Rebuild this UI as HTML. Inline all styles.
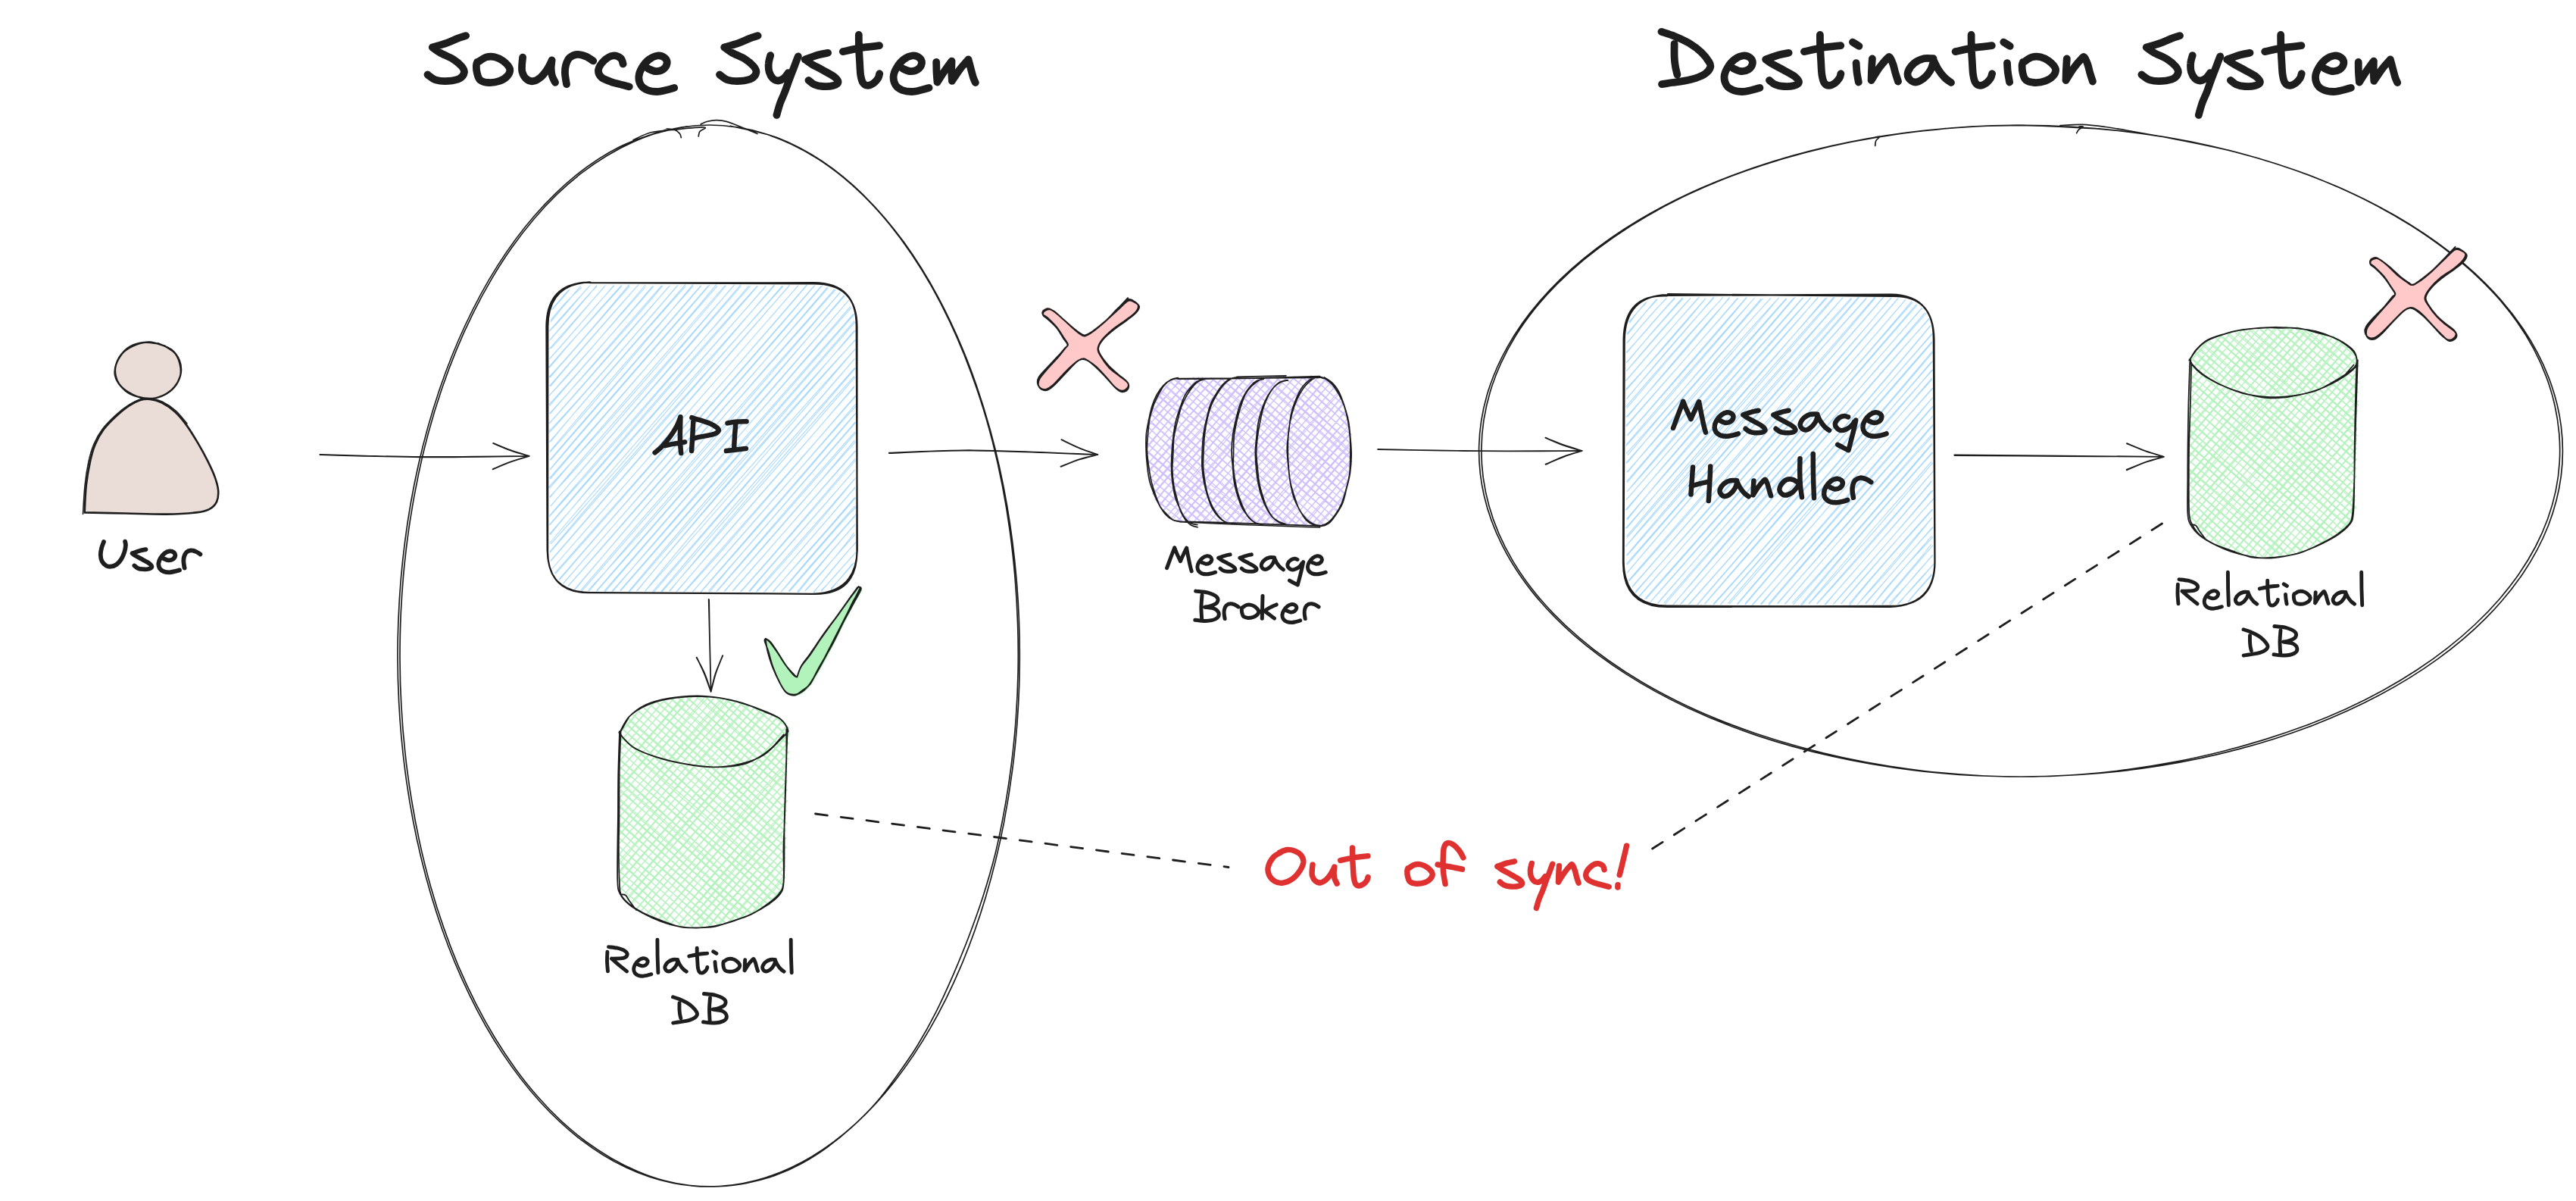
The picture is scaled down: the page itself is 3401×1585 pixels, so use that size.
<!DOCTYPE html>
<html><head><meta charset="utf-8"><title>Diagram</title><style>html,body{margin:0;padding:0;background:#fff;font-family:"Liberation Sans",sans-serif}svg{display:block}</style></head><body><svg width="3401" height="1585" viewBox="0 0 3401 1585"><path d="M964.3 166.2C974.6 168.8 1005.7 173.9 1025.9 181.6C1046.1 189.4 1066.2 199.9 1085.5 212.8C1104.8 225.7 1123.7 241.3 1141.6 259C1159.5 276.7 1176.8 297 1193 319.1C1209.1 341.3 1224.4 365.8 1238.4 391.8C1252.4 417.9 1265.4 446.1 1276.9 475.4C1288.4 504.8 1298.7 536 1307.5 568C1316.3 600 1323.7 633.5 1329.6 667.4C1335.4 701.3 1339.8 736.3 1342.6 771.4C1345.4 806.4 1346.6 842.2 1346.2 877.5C1345.9 912.8 1343.9 948.5 1340.4 983.3C1336.9 1018.1 1331.8 1052.9 1325.3 1086.4C1318.8 1120 1310.6 1153 1301.2 1184.5C1291.8 1215.9 1280.8 1246.5 1268.7 1275.2C1256.6 1303.8 1243.1 1331.2 1228.5 1356.4C1214 1381.6 1198.2 1405.2 1181.6 1426.4C1165.1 1447.5 1147.3 1466.8 1129.1 1483.4C1110.8 1500 1091.6 1514.5 1072.1 1526.2C1052.5 1537.9 1032.2 1547.3 1011.9 1553.8C991.5 1560.4 970.7 1564.3 950 1565.6C929.3 1566.8 908.3 1565.3 887.7 1561.2C867.2 1557.1 846.6 1550.2 826.6 1540.8C806.6 1531.5 786.9 1519.3 768 1504.9C749.1 1490.5 730.6 1473.4 713.2 1454.3C695.8 1435.1 679.1 1413.5 663.5 1390.1C648 1366.7 633.4 1341 620.2 1313.8C606.9 1286.7 594.7 1257.5 584 1227.2C573.3 1197 563.9 1165 556 1132.3C548.1 1099.6 541.6 1065.5 536.7 1031.2C531.8 996.9 528.4 961.5 526.6 926.3C524.8 891.1 524.5 855.3 525.9 820C527.2 784.8 530.1 749.3 534.6 714.8C539 680.3 545.1 645.9 552.5 613C560 580 569 547.7 579.3 517C589.6 486.3 601.4 456.7 614.3 429C627.2 401.4 641.4 375.1 656.6 351.1C671.8 327.1 688.3 304.8 705.4 285C722.6 265.2 740.8 247.4 759.5 232.2C778.2 217.1 797.8 204.2 817.6 194.1C837.5 183.9 868.4 175.1 878.5 171.3M864.7 176.3C870.7 174.9 888.5 169.7 900.6 167.8C912.6 165.9 924.7 165 936.8 165C948.9 165 961.1 166 973.1 167.9C985.2 169.8 997.3 172.6 1009.2 176.3C1021.1 180 1032.9 184.7 1044.6 190.2C1056.3 195.7 1067.9 202.1 1079.2 209.3C1090.5 216.5 1101.7 224.7 1112.7 233.6C1123.6 242.5 1134.3 252.3 1144.7 262.9C1155.2 273.4 1165.3 284.8 1175.2 296.9C1185 309 1194.5 321.9 1203.6 335.4C1212.8 349 1221.6 363.2 1230 378.1C1238.4 393 1246.4 408.6 1254 424.6C1261.6 440.7 1268.8 457.4 1275.5 474.6C1282.3 491.8 1288.6 509.5 1294.4 527.6C1300.3 545.7 1305.6 564.4 1310.5 583.3C1315.3 602.2 1319.6 621.6 1323.4 641.2C1327.2 660.8 1330.5 680.8 1333.3 700.9C1336 721 1338.3 741.4 1340 761.8C1341.7 782.3 1342.9 802.9 1343.6 823.6C1344.3 844.2 1344.5 864.9 1344.1 885.6C1343.7 906.2 1342.8 927 1341.3 947.5C1339.9 968 1337.8 988.5 1335.3 1008.7C1332.7 1028.9 1329.7 1049 1326.1 1068.7C1322.5 1088.5 1318.6 1108.1 1313.9 1127.2C1309.1 1146.2 1303.6 1165 1297.8 1183.2C1291.9 1201.5 1285.4 1219.3 1278.8 1236.7C1272.2 1254 1265.2 1271 1258.1 1287.4C1250.9 1303.9 1243.7 1320 1235.9 1335.4C1228.1 1350.8 1219.9 1365.7 1211.3 1379.8C1202.6 1393.9 1193.2 1407.1 1183.9 1419.9C1174.7 1432.7 1165.5 1445.2 1155.5 1456.6C1145.6 1467.9 1134.9 1478.2 1124.3 1487.8C1113.6 1497.5 1102.7 1506.4 1091.6 1514.5C1080.5 1522.5 1069.1 1529.8 1057.5 1536C1045.9 1542.3 1034 1547.5 1022.1 1551.8C1010.1 1556 997.9 1559.1 985.8 1561.4C973.7 1563.8 961.5 1565.1 949.4 1565.7C937.2 1566.2 925.1 1566.1 913 1564.8C900.9 1563.5 888.8 1561.2 876.9 1558C865 1554.9 853.2 1550.7 841.5 1545.7C829.8 1540.8 818.3 1535 806.9 1528.4C795.5 1521.8 784.2 1514.5 773.1 1506.3C762.1 1498 751.2 1488.9 740.6 1479.1C730 1469.2 719.7 1458.5 709.7 1447C699.6 1435.6 689.9 1423.3 680.5 1410.4C671.1 1397.4 662 1383.8 653.3 1369.5C644.6 1355.2 636.3 1340.2 628.3 1324.6C620.4 1309.1 612.8 1292.9 605.7 1276.2C598.6 1259.5 592 1242.2 585.8 1224.4C579.6 1206.7 573.8 1188.5 568.6 1169.9C563.3 1151.3 558.6 1132.2 554.3 1112.9C550.1 1093.6 546.3 1073.9 543.1 1054C539.8 1034.1 537.1 1013.9 534.9 993.6C532.7 973.3 531 952.8 529.9 932.2C528.7 911.7 528.1 891 528 870.3C527.9 849.7 528.4 829 529.3 808.4C530.3 787.8 531.8 767.2 533.8 746.9C535.9 726.5 538.4 706.2 541.5 686.3C544.6 666.3 548.2 646.5 552.3 627.1C556.3 607.7 561 588.5 566 569.8C571.1 551.1 576.7 532.7 582.8 514.8C588.8 497 595.3 479.5 602.3 462.6C609.2 445.7 616.7 429.3 624.5 413.6C632.3 397.8 640.5 382.6 649.1 368.1C657.7 353.6 666.6 339.7 675.9 326.6C685.2 313.4 694.8 300.9 704.8 289.2C714.7 277.5 724.9 266.5 735.4 256.4C745.9 246.2 756.7 236.9 767.7 228.4C778.7 219.9 789.9 212.2 801.3 205.4C812.6 198.6 824.2 192.5 835.8 187.4C847.5 182.2 859.2 177.8 871.1 174.4C883 171 901.1 168.1 907.1 166.8M925.3 163.9C926.8 163.3 930.5 161.2 934 160.3C937.5 159.4 941.9 158.6 946.2 158.7C950.5 158.8 955.7 159.5 960 160.6C964.3 161.7 968.1 163.5 972 165C975.9 166.5 978.8 167.7 983.5 169.6C988.2 171.5 997.2 175.3 1000 176.5M836 184.9C839.9 183.2 850.2 177.1 859.3 174.8C868.3 172.5 878.6 172.2 890.3 171.1C902 170 924 167.6 929.6 168C935.2 168.4 924.9 171.8 923.7 173.8C922.5 175.8 922.5 179 922.2 180M880 170C881.7 170.2 887.4 170.1 890.3 171.1C893.2 172.1 895.8 174.3 897.3 176.1C898.8 177.8 899 180.7 899.3 181.6" fill="none" stroke="#1e1e1e" stroke-width="1.7" stroke-linecap="round" stroke-linejoin="round"/>
<path d="M2853.2 180C2870.5 183.7 2923.5 193.1 2957 202C2990.4 210.9 3023.2 221.5 3054 233.3C3084.8 245.2 3114.4 258.6 3141.8 273.2C3169.2 287.7 3195.1 303.7 3218.4 320.7C3241.8 337.6 3263.2 355.8 3282 374.6C3300.8 393.5 3317.3 413.5 3331.1 433.8C3344.8 454.2 3356.1 475.5 3364.4 496.9C3372.8 518.3 3378.5 540.3 3381.3 562.2C3384.1 584.1 3384.1 606.4 3381.3 628.4C3378.4 650.3 3372.7 672.3 3364.4 693.7C3356 715.1 3344.7 736.4 3331 756.7C3317.2 777.1 3300.6 797.1 3281.9 815.9C3263.1 834.8 3241.6 853 3218.2 869.9C3194.8 886.8 3169 902.8 3141.6 917.3C3114.1 931.9 3084.5 945.3 3053.7 957.2C3022.9 969 2990.2 979.6 2956.7 988.4C2923.2 997.3 2888.2 1004.7 2852.9 1010.4C2817.5 1016.1 2781 1020.2 2744.6 1022.5C2708.3 1024.9 2671.2 1025.6 2634.6 1024.5C2598.1 1023.5 2561.2 1020.8 2525.4 1016.4C2489.5 1012 2453.8 1005.9 2419.5 998.2C2385.2 990.6 2351.5 981.3 2319.5 970.6C2287.6 959.9 2256.6 947.5 2227.8 934C2199 920.5 2171.5 905.4 2146.5 889.4C2121.5 873.4 2098.2 856 2077.5 837.9C2056.9 819.7 2038.3 800.4 2022.6 780.6C2006.8 760.7 1993.4 739.9 1982.9 718.9C1972.3 697.8 1964.4 676 1959.4 654.3C1954.4 632.5 1952.1 610.2 1952.7 588.3C1953.3 566.3 1956.7 544.1 1962.9 522.4C1969.1 500.8 1978.2 479.1 1989.9 458.3C2001.5 437.5 2016 416.9 2032.9 397.4C2049.7 377.9 2069.3 358.9 2090.9 341.2C2112.5 323.5 2136.7 306.5 2162.6 291C2188.5 275.5 2216.7 261 2246.2 248C2275.8 235.1 2307.4 223.4 2339.9 213.3C2372.4 203.2 2406.6 194.5 2441.3 187.6C2476 180.6 2512 175.2 2548.1 171.5C2584.1 167.8 2621.1 165.8 2657.7 165.4C2694.3 165.1 2749.3 168.9 2767.6 169.6M2482.9 180.3C2493.2 178.9 2524.1 174.2 2545 171.9C2565.8 169.7 2587 168 2608.1 166.9C2629.2 165.9 2650.5 165.3 2671.6 165.4C2692.8 165.5 2714.1 166.1 2735.2 167.3C2756.3 168.5 2777.4 170.3 2798.2 172.6C2819 174.9 2839.8 177.8 2860.2 181.2C2880.6 184.6 2900.8 188.6 2920.6 193.1C2940.5 197.6 2960 202.6 2979.1 208.2C2998.2 213.7 3016.9 219.8 3035.1 226.3C3053.3 232.9 3071.1 239.9 3088.2 247.4C3105.3 255 3121.9 263 3137.9 271.4C3153.8 279.9 3169.1 288.8 3183.8 298C3198.4 307.3 3212.4 316.9 3225.6 326.9C3238.8 336.9 3251.3 347.2 3263 357.8C3274.6 368.4 3285.7 379.3 3295.7 390.5C3305.8 401.7 3315 413.2 3323.3 425C3331.6 436.7 3338.9 448.7 3345.4 460.8C3351.8 472.9 3357.3 485.3 3361.9 497.6C3366.5 510 3370.2 522.5 3373 535C3375.8 547.5 3377.7 560.1 3378.8 572.6C3379.8 585.2 3380 597.8 3379.2 610.3C3378.5 622.8 3376.8 635.4 3374.2 647.9C3371.6 660.3 3368 672.7 3363.6 685C3359.1 697.3 3353.7 709.5 3347.5 721.5C3341.2 733.5 3334 745.3 3326 757C3318 768.6 3309.1 780 3299.4 791.2C3289.7 802.4 3279.1 813.4 3267.8 824C3256.5 834.7 3244.3 845.1 3231.5 855.1C3218.7 865.2 3205.1 874.9 3190.8 884.3C3176.5 893.7 3161.5 902.7 3145.9 911.2C3130.3 919.8 3113.9 928 3097.1 935.7C3080.3 943.3 3062.8 950.6 3044.9 957.3C3027 964 3008.5 970.3 2989.6 976.1C2970.8 981.9 2951.5 987.3 2931.9 992.2C2912.3 997 2892.3 1001.5 2872 1005.4C2851.8 1009.2 2831.2 1012.6 2810.5 1015.4C2789.8 1018.2 2768.8 1020.4 2747.8 1022C2726.7 1023.6 2705.5 1024.5 2684.3 1024.9C2663.1 1025.2 2641.8 1024.9 2620.7 1024C2599.6 1023.1 2578.4 1021.5 2557.5 1019.4C2536.6 1017.3 2515.7 1014.6 2495.2 1011.4C2474.7 1008.1 2454.4 1004.3 2434.4 1000C2414.4 995.7 2394.7 990.8 2375.4 985.5C2356.2 980.2 2337.2 974.4 2318.8 968.2C2300.3 962 2282.3 955.3 2264.8 948.1C2247.4 940.9 2230.4 933.3 2214.1 925.2C2197.8 917.1 2182 908.6 2167 899.7C2151.9 890.8 2137.5 881.4 2123.8 871.7C2110.1 862.1 2097.1 852 2085 841.6C2072.8 831.3 2061.3 820.6 2050.8 809.6C2040.2 798.6 2030.4 787.3 2021.5 775.8C2012.6 764.3 2004.6 752.5 1997.5 740.6C1990.4 728.7 1984.2 716.5 1978.9 704.3C1973.6 692 1969.2 679.6 1965.8 667.2C1962.3 654.7 1959.8 642.2 1958.1 629.6C1956.5 617.1 1955.7 604.5 1955.9 591.9C1956 579.3 1957.1 566.7 1959 554.2C1961 541.7 1963.8 529.1 1967.5 516.7C1971.3 504.2 1975.9 491.8 1981.5 479.6C1987.1 467.4 1993.6 455.2 2001 443.3C2008.3 431.4 2016.7 419.7 2025.8 408.2C2035 396.8 2045.2 385.6 2056 374.7C2066.9 363.8 2078.6 353.2 2091 342.9C2103.5 332.6 2116.7 322.6 2130.6 313C2144.5 303.3 2159.1 294 2174.4 285.2C2189.6 276.3 2205.6 267.8 2222.1 259.8C2238.7 251.9 2255.8 244.3 2273.5 237.2C2291.1 230.2 2309.4 223.6 2328 217.6C2346.6 211.5 2365.8 205.9 2385.2 200.9C2404.7 195.8 2424.6 191.2 2444.7 187.2C2464.8 183.2 2485.3 179.7 2505.9 176.8C2526.5 173.9 2558 170.9 2568.4 169.7M2720 165.6C2724.9 165.4 2739.4 164.1 2749.4 164.4C2759.4 164.7 2770.3 166.2 2780 167.5C2789.7 168.8 2795.9 170 2807.6 172C2819.3 174 2834.6 176.7 2850 179.5C2865.4 182.3 2891.7 187.3 2900 188.9M2745 167C2745.9 167.1 2750.4 166.6 2750.3 167.3C2750.2 168 2745.9 169.8 2744.5 171.2C2743.1 172.6 2742.1 174.9 2741.6 175.7M2470 182.5C2471.9 182.1 2480.4 179.4 2481.5 180C2482.6 180.6 2477.7 183.7 2476.7 185.8C2475.7 187.9 2475.9 191.4 2475.7 192.5" fill="none" stroke="#1e1e1e" stroke-width="1.7" stroke-linecap="round" stroke-linejoin="round"/>
<path d="M728.9 408.4C737.8 397.8 744.7 389.1 750.8 383M728.4 409.2C736.2 401.1 742.5 393.6 752.3 382M727.2 422.7C737.4 409.2 750.4 394 767.9 379.6M727 424.8C735.1 415 742.9 405.2 766.9 377.3M726.7 435.7C744.7 418 760.3 397.2 779.4 376.5M725.1 437.3C737.8 422.4 750.5 408.5 777.9 377.8M726.6 447.8C751.1 419.4 773.9 390.2 788 378.1M725.5 449.4C739.2 433.6 752.5 418.5 788.3 376.3M727.3 459.9C743.8 443.8 758.9 422.2 798 378.4M724.9 461C745.8 437.3 767 414.1 799.2 376.5M725.3 474C751.5 445.4 773.8 417.4 810.9 376.9M726.4 472.6C751.8 443.2 779.9 412.8 810.4 376.5M724.2 485.1C753.4 450.5 783 419.9 820.7 377.7M725.4 485.2C755.1 449.9 784.4 416 820.5 376.3M724.8 497.6C758.1 462.4 789.7 424.1 830.8 375.7M725.7 498.3C766.6 452.1 806.5 405.5 831.2 377.6M726.7 509.8C767.3 461.2 810.7 412.5 843.1 375.5M725.4 509.7C754.3 476.6 783 442.7 841.4 377.4M725.4 521.9C773.9 466.7 822 412.1 852.3 378.5M724.8 522.5C762.8 482.5 797.4 440.2 852 376M725.6 535.7C754.7 501 784.3 469 861.6 377.6M724.9 533.9C759.6 496.2 793.4 457.4 863.3 377.5M725.5 545.8C776.5 489.2 831 430.3 874.8 377.1M726.2 546.2C769.6 495.8 814.3 444.9 873.5 376.8M726.1 557.8C761.8 517.9 801 473.7 883 378.2M724.9 559.1C778.6 497.9 831.3 436.2 884.5 376.8M724.7 569.4C779.7 511.7 827.9 453.9 893.4 377.9M724.9 571.5C767.3 524.9 808.7 477 895 376.4M726.9 582.8C790.1 505.4 859.6 428 905 375.4M725.2 583.6C783.7 515.5 841 448.7 905.3 377.6M726 596.9C795.4 520 860.9 440.6 915 375.4M726.1 595.7C789.6 519.7 855.8 444 915.2 377.4M727.1 607.2C770.6 557.5 814.8 506.2 925.8 377.2M725.8 607.3C785.5 537.9 843.2 471.2 925.5 376.7M726.9 618.5C769.1 567.2 816.5 513.5 935.3 376.8M726 620.2C808 524.1 892.7 427.6 937 376M726.3 632.3C810.2 535 891 441.7 945.9 375.4M725.4 631.1C793 554.7 860.3 476.8 946.7 377.6M724.1 643.4C780.4 582.1 835.4 523.1 958.6 377M725.5 644.5C799.3 557.3 875.7 470.5 957.4 376.5M726.1 656.6C781.3 588.3 841.6 523.6 970 375.7M725.5 656.2C778.4 599.4 829.9 540.5 967.9 377.7M727.2 667.7C803 580.3 878.3 490.9 978.1 375.7M726.6 668.2C825.5 553.8 924.5 439 978.4 377.5M725.2 681.9C798.8 600.3 870.3 516.3 988.6 377M726 680C818.6 573.1 914.4 462.9 990.6 377.3M725.3 692.8C825.5 575.6 928.9 455.4 999.8 377.3M726.1 692.6C780.9 629.2 837.5 564.5 1000.4 377.3M726.1 706C807.5 606.1 894 511.2 1011 377.9M725.5 704.9C833 582.7 939.7 460.7 1011.3 377.2M727.2 718C795.3 642.8 860.3 566.7 1022.4 375.6M725.7 717C789.7 640.3 856.7 563.6 1022.4 377.2M725.9 728.3C786.4 655.5 849.4 583.5 1033.7 377.8M726 729.1C800.8 643.5 877.2 557 1032.9 377.2M726.8 740.4C801 654.3 875.6 566.5 1041.8 377.3M727.7 739.8C840.5 609.6 952.1 482.3 1042.5 376.2M729.9 749.5C843.4 618.7 954.7 489.7 1053.4 377.3M729 750.5C844.6 616.7 959.8 484.4 1054 376.6M732.4 756.6C863.5 608.2 990.4 464.4 1065.6 376.2M733.3 757.5C818.5 662.6 902.1 565.6 1064.8 376.3M738.5 765.4C824.2 664.3 914.2 564.7 1076 376.3M737.9 764.8C814.5 676.8 891.3 588 1074.5 377.5M743.2 770.3C854.9 642.3 968.8 513.2 1086 376.3M744.1 769.6C863.1 633.6 979.7 498.7 1084.1 377.7M750.4 773.2C862.6 646.8 972.8 519.6 1092.4 378.9M749.8 773.7C882 622.3 1012.7 470.6 1093.4 379.8M759.4 777.7C849.1 669.9 942.2 563.8 1103.4 382.2M758.3 778C862.9 655.8 967.7 534.4 1101.7 381.8M767.8 780.6C887.3 642.7 1008.1 506.3 1109.2 385.7M766.3 779.8C848.4 683.8 929.8 589.4 1109.3 386.1M776.1 779.5C851.2 699.8 922.1 616.2 1114.1 390M777.5 780.3C859.4 683 943.7 586.1 1115.2 390.4M787.9 779.2C920.8 627.6 1052.6 472.9 1120.7 396M787.3 781C883 671.2 976.9 564 1119.9 396.9M798.4 781.3C900 663.7 1003.9 544.1 1123 404.1M797.6 780.2C907 654.5 1017.2 526.5 1124.3 405.7M807.6 780.7C920.9 653.5 1029.8 526.8 1127.8 414.9M808.6 780.9C892.3 682.4 975.8 585.3 1126.9 414.2M818.8 779.2C891.7 696.2 964.3 610.4 1128.2 423.4M819 780.1C907.3 679.5 996.6 577.8 1129.1 424.9M830.9 781.2C898.6 701.6 969.9 623.2 1128 435.8M829.8 780.9C916.3 677.3 1003.9 576 1129.7 436M841.1 779.8C936.8 663.9 1035.1 549.5 1129.6 448.3M840.5 780.1C919.2 685.3 1000.8 592.4 1128.5 449.1M852.3 779.4C915.5 700.6 983.9 623 1128.5 461.3M851.3 780.7C942.8 678.6 1031.8 575.6 1129.1 460.7M862.4 782.2C940.1 693 1017.1 603.6 1127.7 474.4M861.3 781C944.6 684.8 1027.1 591.5 1128.7 473M873.7 781.2C976.2 666.7 1073.7 549.5 1129.5 485.9M872.5 781.2C951.6 687 1031.1 595.6 1128.7 485.4M884.5 779.8C975.7 668.6 1074.8 554.8 1127.8 496.7M883.3 780.3C963.7 688.8 1044.4 596.3 1129.2 497.5M894.4 780C940.1 725.5 988.7 669.6 1128 511M892.8 781.1C985.8 674.5 1079.5 567.1 1128.2 509.3M902.4 781.6C957.9 718.9 1009.8 658.3 1130.3 522.3M904.4 780.1C953.4 728.1 998.9 673.8 1129.4 522.2M914.3 781.2C1000.3 682.5 1085.5 584.4 1130.7 535.4M914.7 780.9C979.6 706.2 1044.6 633.5 1129.5 533.3M924.9 781.8C984.8 714.3 1044.1 647.1 1130.1 545.2M925.6 780.6C969.4 729.4 1015.7 675.9 1128.1 546.8M936.5 781.6C981.8 726.3 1029.6 672.9 1129.4 556.7M935.5 779.9C981 729.6 1023.4 679.4 1129.5 557.9M946.9 780.1C1019.6 696.9 1091.6 614 1130.1 570.8M945.6 780.9C1007 709.9 1067.9 637.9 1128.8 569.9M956.4 780C997.6 734.4 1036 691.2 1128.5 580.9M956.4 780.9C1006.1 722.8 1055.2 665.8 1129.5 582.9M968.7 778.8C1018.1 722.2 1070.5 661.1 1129 595M967.1 779.9C1030 707.9 1093.7 635.2 1129.8 595M977.3 781.2C1019.9 734.3 1062.7 682.9 1129 605.4M978.7 780.3C1020.3 734 1062.1 686.1 1129.6 607.5M990 780.6C1035.5 725.5 1083.5 673.1 1128.1 620.3M988.5 780.6C1044 716.2 1099.8 653.6 1128.6 620.1M998.1 781.3C1027.1 746.8 1054.9 717.1 1128.3 632.1M1000.1 780.3C1047.4 728.5 1093.4 675.4 1129.8 630.5M1008.5 781.7C1045 741.1 1079.6 700 1128.8 643.9M1010.6 780.1C1035.2 751 1060.4 722.8 1129 643M1020.3 780.8C1065.2 730.3 1108 683.2 1129.7 656.6M1021.2 780.5C1055.7 739.7 1093.3 698.1 1128.6 656.3M1032.7 779.5C1067.3 741.3 1099.9 700.1 1130.1 669M1031.2 781.1C1059.1 747.7 1086.6 714.7 1128.7 667.6M1041.1 780.4C1063.2 753.7 1085.8 729.3 1130.5 678.4M1042.3 780.8C1067.3 751.5 1094.1 720.6 1129.3 680.6M1053.8 781.9C1078.8 750.5 1105.6 718.2 1127.8 693.4M1052.7 781.1C1067.4 762 1084.5 742.6 1129.1 691.6M1064 779C1077.4 764.4 1094.9 746.6 1127.9 703M1062.3 780.1C1079.9 761.5 1098.4 740.1 1128.8 705.3M1074.1 782.1C1093.7 757.1 1114 733 1130.4 715.3M1074.2 781.3C1090.1 762.9 1106.1 742.5 1129.1 716.7M1083.9 779.4C1097.8 766.7 1109.5 750.8 1130.3 728.5M1084.5 780.2C1098.7 763.1 1112.3 748.9 1129.1 729.8M1097 778.3C1108.2 763.8 1119.1 752.4 1125.4 743.8M1097.1 776.6C1107.4 766.3 1116.8 755.4 1127.6 742.7" fill="none" stroke="#a5d8ff" stroke-width="1.08" />
<path d="M780.1 373.4 L1074.5 373.2 Q1131.5 373.5 1130.7 431.3 L1131.8 725.8 Q1130.5 782.6 1072.5 783.8 L780.7 782 Q723.4 784.2 722.6 725.4 L721.4 430.1 Q722.3 372.2 779.5 372.7M778.7 373.2 L1073.3 374.4 Q1131.6 373.7 1131.5 431.8 L1131.4 724.4 Q1133.1 784.7 1074.6 783.8 L779.6 782.2 Q721.5 781.7 723.1 724.8 L723.3 430.9 Q723.7 374.4 778.6 372.4" fill="none" stroke="#1e1e1e" stroke-width="2.2" stroke-linecap="round" stroke-linejoin="round"/>
<path d="M2151.4 426.4C2158.3 415.9 2163.2 409.2 2173.2 400.3M2150.2 425.2C2159.4 415.3 2166.5 406.5 2173.8 398.2M2148.5 441.7C2156.7 432.1 2166 419.2 2187.1 394.8M2148.3 440.1C2160.3 425.8 2172.2 412.2 2188.3 395M2148.9 451.9C2160 438.8 2171.9 422.3 2200.4 393.6M2147.5 453C2163.9 433.9 2179.6 415.6 2199.9 393.5M2146.9 465.3C2172.6 438.7 2194.9 409.7 2211.3 393.9M2147.7 465.7C2165.5 444.5 2183.8 423.3 2211.2 392.7M2146.7 479C2169.1 453 2188.9 429.6 2222.4 393.6M2148.3 478C2166.7 455.6 2185.6 432.8 2221.3 392.9M2147.3 489.8C2165.2 469 2184.1 445 2232 393M2147.3 489.7C2170.6 463.9 2191.6 438.2 2231.6 393.8M2146.4 502.6C2179.2 464.3 2213.7 425.2 2243.7 391.9M2147.9 501.5C2176.7 467.5 2208 431.9 2241.4 393.9M2146.9 514.8C2170.3 489.6 2191.2 462.1 2251.6 394.1M2146.7 513.5C2190.7 467 2232.7 417.2 2251.9 393.9M2148.8 524.5C2187.8 479.7 2228.1 432.5 2262.9 391.6M2147.6 526.7C2187.9 477.7 2228.2 430.7 2262.5 393.4M2146.4 537.2C2189.5 486.9 2232.4 438.1 2274.7 392.7M2147.7 538.6C2187.8 492.2 2226 446.2 2274.1 393M2148.7 550.1C2199.3 489.4 2252.8 426.7 2282.9 394.2M2146.6 550.8C2200.9 490 2255.2 427.2 2283.7 392.2M2147 563C2198.8 503.1 2251.1 443.8 2293.8 393.5M2146.9 561.9C2187.1 515.8 2228 470.6 2294.8 393.4M2149.2 574.3C2198.8 516.2 2254.9 455.4 2306.3 392.4M2148 574.8C2210.9 502.4 2272.8 430.3 2305.2 393M2146.8 588.6C2186.9 545.2 2225.3 498.4 2315.7 394M2147.4 586.6C2199.2 526.1 2251 465.5 2316.6 393M2148.8 600.8C2195.8 544.7 2240.1 492.7 2325.1 394.3M2147.2 598.6C2184.2 557.7 2222.2 514.7 2327.4 393.8M2146.5 611.3C2223.6 525.3 2295.1 439.6 2336.8 394.5M2148.4 611C2209.7 536.7 2273.9 463.5 2338.2 393.2M2148.8 623.1C2212.5 546.7 2276.1 471.2 2347.3 394.4M2147.8 623.1C2228.7 532.4 2308.9 441.6 2348.7 392.5M2148.2 636.8C2198.8 577.4 2247.2 521.6 2358.7 394.4M2147.6 635.4C2218.9 552.9 2290.1 469.6 2358.5 393.7M2148.9 647.8C2224.1 558.7 2298.2 474.6 2368.2 393.1M2148 649C2212.6 577.1 2275.6 503.2 2370.1 392.2M2147.9 658.7C2195.1 604.8 2243.1 548.3 2380.3 392.7M2147 659.7C2217.3 580.4 2287 498.9 2380.4 393.4M2146 673.1C2210.7 600 2275.9 525.3 2389.9 394M2147.7 673C2219.7 585.7 2293.2 500.9 2390.9 392.3M2148 686.4C2234.8 578.1 2324 478 2400.5 392.7M2147.7 684.8C2228.4 590.7 2307.8 498 2400.2 392.4M2145.9 697.5C2227.1 605.7 2304.2 517.8 2410.2 393.1M2147.6 697.2C2246.4 580.6 2347.9 464.6 2412.5 392.6M2147.5 707.8C2204 642.2 2258.2 575.9 2421 392.2M2148.1 709.6C2229.9 613.7 2313.8 517 2422.2 392.7M2146.3 721.1C2211.7 648.8 2275.2 574.9 2432.9 392.9M2146.8 720.6C2236.4 613.6 2328.9 508.8 2433 392.9M2147.9 733.5C2243.8 623.8 2338.3 512.5 2444.8 394.5M2147.4 733.2C2246.5 615.3 2349.3 497.1 2444.2 393.2M2147 744.5C2252.7 624.8 2359.1 499.7 2453.5 392.2M2148.3 745.3C2257 619.2 2366.6 492.7 2454.7 392.5M2148.8 755.1C2229.2 661.8 2308.9 565.8 2463.8 394.5M2148.4 755.9C2235.7 651.7 2325.5 548.1 2464.6 392.7M2149.9 766.5C2257.2 642.3 2365 518.1 2475.7 391.6M2151.1 766.6C2275.8 625.4 2400.5 482.1 2476 392.8M2154.7 775.2C2233.8 682.3 2316.4 588.8 2487.2 391.8M2155 774.1C2250.5 665 2343.7 558 2485.6 393M2159.1 782.3C2254.1 673.2 2347.7 565.1 2496.8 393.5M2159.4 780.7C2272.6 655.2 2383.2 526.8 2496.8 392.8M2163.9 787.9C2278.6 654.1 2393.3 521.8 2506.3 393.2M2164.3 786.6C2271.4 665.2 2378.9 542.4 2506.1 393.6M2172.9 790.7C2273 678.7 2373.3 561.4 2514.9 396.6M2171 791C2254.6 697.5 2337.1 603 2516.1 395.2M2178.8 794.5C2313.9 640.9 2447.9 486.7 2524.9 399.1M2178.8 794.7C2286.5 674 2393.7 551 2524.2 397.3M2188.9 795.6C2265.6 708 2340.8 619.9 2530.8 403M2188.7 796.4C2265.1 709 2340 622.3 2530.6 401.2M2196.8 796.2C2304 674.7 2414.4 547.7 2537.6 406.7M2198.1 797.6C2279.1 702.8 2360.2 609.5 2537.6 406.2M2208.8 798.2C2319.6 670.5 2428.6 543.6 2541.3 412.7M2209.2 798.2C2301.6 686.7 2396.5 578.6 2543.3 413.2M2220.3 796.4C2346.7 648.3 2476.7 499 2547 420.8M2218.4 797.7C2321 681.3 2423.3 562.4 2547 420.1M2229.3 797.6C2358.4 652.9 2482.8 510.1 2548.8 430M2230.2 797.4C2337.2 676.7 2442 557.4 2548.8 429.4M2241.3 797.8C2330.6 695.7 2417.8 595.4 2550.6 440.4M2240.7 798C2345.8 675.6 2451.1 554.2 2551.5 440.5M2250.8 796.7C2315.4 721.4 2378.2 648.1 2550.9 450.7M2250.6 797.5C2350.3 683.2 2449.3 568.5 2551 452M2262.1 798.4C2333.3 719.9 2403.4 639.7 2551.9 465M2262.1 797.2C2338.5 713.6 2412 627.9 2551.3 463.7M2271.3 798.1C2356 703.1 2438.9 607.4 2550.1 477.4M2271.8 797.3C2353.2 703.6 2434.8 611.5 2552.2 476.2M2281.5 796.3C2378 683.2 2473.5 574.2 2553.1 486.7M2283.3 797.1C2370.8 697.7 2457.9 597.2 2550.8 488.2M2294.1 797.3C2350 733.5 2401.2 672.7 2550.7 498.9M2293.1 797.5C2392.6 680.7 2493.3 564.2 2551.1 500.5M2303.7 798.5C2386.8 699.4 2472.8 601.3 2552.5 511.7M2304.1 796.6C2400.1 683.9 2499 572 2551.4 512.1M2312.8 798.9C2374.3 730.4 2433.8 664.1 2551.1 525.5M2314.5 797.9C2366.7 736.8 2419.6 677.4 2551.7 524.5M2324.2 797.5C2406.7 705.1 2485.6 613.5 2552.6 536.1M2325.3 797.8C2409 698.5 2496 598.8 2551.6 536.4M2335.1 798.9C2380.5 745 2427.2 691.5 2551.6 549.4M2335 796.9C2397.8 723.3 2461.8 650.3 2551.5 549.4M2347.7 795.8C2394.7 742.2 2439.6 690 2551.7 560.4M2346.2 796.7C2411.3 723.7 2475.8 650.6 2552.2 561.5M2357.2 796.8C2422 721.1 2485.8 645.6 2550.7 573.3M2356.1 797.7C2405.9 739.1 2455.4 680.9 2552.3 574.4M2366.1 796.2C2434.5 722.6 2499.7 644.2 2551.1 584.5M2367.4 798.2C2435 721 2501.1 645.3 2550.7 586.6M2378.9 798.6C2430.7 737.7 2481.2 674.9 2551.9 597.1M2377.3 798.3C2442.1 721.2 2505.2 647.8 2550.9 597.2M2388 796.8C2443.8 730.6 2499.6 667.9 2550.2 608.8M2388.3 797C2447.1 734.1 2502.3 669.6 2551.7 610.6M2399 796.4C2445.4 744.1 2492.4 690.7 2550.8 623.7M2398.6 797.4C2453 738.3 2503 680.7 2552.4 621.6M2410.2 798C2440 760.2 2474.4 726.6 2550 635.9M2409 798C2445.8 756.4 2482.9 715.4 2550.7 634.1M2422.1 795.8C2461.1 752 2500.9 707 2550.4 647.3M2420 797.8C2455.6 756.9 2490.6 718.5 2552.3 646.8M2431.3 796.2C2477.1 742.2 2523.3 691.3 2553.2 657.6M2430.7 797.1C2472.2 750.4 2512.1 702.1 2552.1 659.3M2441.8 799C2475.1 756.8 2509.5 719 2551.9 672.5M2441.2 797.2C2465.5 768 2489.6 740 2551.1 672M2453.5 796.3C2478.7 769.2 2504.1 741.8 2551.1 683M2452.2 798C2479.7 765.3 2507.4 732.5 2550.6 683.7M2463.5 796.6C2485.2 771.5 2504.4 747.3 2552.5 695.6M2462.5 796.6C2486.5 769.8 2511.7 740.5 2551.6 695.7M2473.2 798.1C2490.6 773.6 2511.5 751.9 2552.3 708.3M2472.9 798.3C2496.4 769.4 2519.8 742.9 2550.6 707.2M2484.5 797C2508.9 766.7 2535 738.5 2549.7 718.3M2485 798.1C2510.5 767.2 2538.1 736 2551.9 719.6M2494.2 796.4C2515.1 775 2538.4 748.5 2551.4 732.3M2495.4 798.3C2515.8 773.4 2537.1 748.5 2551.8 733M2505.1 797.2C2517.6 784.4 2532.3 769.4 2552.7 744.4M2506.1 797.3C2522.8 777.2 2539.9 758.4 2552.2 745.3M2519.5 794.5C2527.1 784 2538.6 772.3 2551 759M2518.9 794.7C2529.6 780.9 2540.9 769.4 2550.4 757.6" fill="none" stroke="#a5d8ff" stroke-width="1.08" />
<path d="M2201.9 389.9 L2496.4 388.6 Q2552.8 389.2 2553.5 448.2 L2554.5 742.2 Q2554.1 800.4 2495.1 799.9 L2201.2 801 Q2142.9 800.8 2143 742.4 L2143.6 447.3 Q2144.8 388.3 2200.9 390.5M2202 388.2 L2497.6 390.9 Q2552.8 389.3 2552.8 446.9 L2554.4 740.9 Q2554.6 798.6 2494.9 801 L2201.7 799.7 Q2144.3 799.9 2143.6 740.5 L2144.7 449 Q2145.5 390 2201.5 389.1" fill="none" stroke="#1e1e1e" stroke-width="2.2" stroke-linecap="round" stroke-linejoin="round"/>
<path d="M819.5 965.9C819.6 965.8 819.7 965.7 819.9 965.4M819.5 965.9C819.7 965.7 819.8 965.6 819.9 965.4M819.2 966.3C829.9 956.3 837.7 947.1 846.2 933.7M820.2 963.6C828.2 957.3 834.2 948.9 845.5 935.3M819.2 976.7C836.4 961.5 849 944 863 927.2M819.7 977.9C832.6 964.3 843.1 949.6 863.3 927.5M819.1 990C835.1 972.6 851 954.6 878.3 922.2M818.1 990.9C843 965 865.1 937.9 877.9 923.2M816.8 1005.3C837.9 980.7 860 955.4 889 922.6M818.9 1003.9C835.8 984.1 851.6 963.9 890.4 920.9M818.4 1015.3C847.2 986.2 872.9 954.8 902.6 920.8M817.6 1016.6C841.5 989.3 865.2 963.2 901.2 920M816.9 1030.4C849.1 991.8 880.7 955.7 913.3 919.8M818.4 1028.9C853 987.6 889.3 945.1 912.7 918.2M815.9 1041.5C848.5 1003.4 880.7 969.2 923.2 918.9M818.3 1040.5C844.3 1012.1 870.5 981.1 923.8 917.7M816.8 1054.8C849.6 1014.5 881.4 979 932.5 917.7M817.4 1053.4C858.6 1005.9 899.6 958.1 935.1 919.8M816.6 1067.3C863.7 1012.2 908.5 961.2 943.2 920.6M817.9 1066.4C848.4 1029.4 881 994.4 943.7 919.5M816.9 1079.4C854.9 1035.3 889.3 996.6 955.1 922.8M817.5 1078.8C851.7 1039.7 885.6 998.5 953.4 920.5M818.6 1092.3C866 1031.6 917.5 975.6 960.8 923M817.8 1090.9C855.8 1048 893.1 1005.1 962.8 924.2M817.2 1102.4C848.8 1067.1 880.5 1028.9 972.8 923.6M815.9 1103.6C864.3 1048.2 912.9 993.1 971.9 926.2M815.5 1115.5C875.7 1049.4 928.8 985.9 979.1 927.6M815.6 1115.6C852.1 1073.1 889.6 1030.7 980.5 927.2M817 1128.4C878.7 1053 944.1 978.8 986.3 931.1M817.4 1127.4C852.6 1086.1 889.9 1042.4 988.9 931M815.5 1137.9C864.3 1086.4 910.8 1032 997.2 933.2M817.4 1140.4C865.6 1083.2 917.2 1025 996.5 932.8M817.7 1152.1C885.5 1068.4 960.5 987.7 1005.4 936.6M816.3 1151C881 1077.3 944.4 1004.4 1005.2 935.4M817.2 1164.9C859.4 1116.3 901.2 1070.9 1011.5 937.7M817 1163.8C862.3 1112.3 907.2 1061 1012.5 939.7M817.8 1175.4C878.5 1104.9 934.6 1038.5 1019.4 944.6M818.4 1173.9C876.9 1107.1 932.5 1042.6 1020.7 942.5M823.4 1180.9C903.1 1092.8 981.7 998.2 1027 944.6M822.7 1182.2C883.9 1108.8 948 1036.4 1026.5 946.8M826.5 1186.4C877.1 1129.9 930.2 1070.8 1032.6 950.3M828.1 1188C870.1 1137 913.2 1085.3 1033 951.9M832.3 1192.2C889.9 1129.5 946.2 1066.3 1038.9 959.1M833.5 1193.3C912.6 1105.7 989 1016.2 1039.2 957.2M840.8 1199.7C916.3 1109.6 995.8 1020.7 1042.5 967.5M840.4 1199.2C883.1 1149.6 927.5 1096.9 1041.2 967.3M847 1201.5C893 1150.8 938.9 1097.6 1041.1 979.6M845.8 1202.5C892 1150.9 937.8 1098.7 1040.3 978.8M852.8 1207.2C894 1163.5 931.5 1116.2 1041.9 991.2M854.2 1206.7C911.4 1140.5 968.2 1075.4 1039.9 992.5M862 1210.8C896 1168.6 933.2 1128.6 1040.5 1007M862.1 1210.8C923.7 1135.8 987.2 1062.8 1039.7 1004.3M869.5 1212.7C932.2 1142.4 991.1 1070.9 1037.9 1016.8M870 1213.8C918.6 1156.8 967.5 1101.5 1039.5 1017.7M878.2 1214.7C938.7 1144.9 998.6 1075.1 1037.7 1031.5M878.2 1215.8C921.5 1164.1 966.5 1111.8 1039.6 1029.7M885.1 1219.3C921.7 1179.2 957.8 1138.6 1037.3 1041.9M886.6 1218.7C927.5 1169.1 969.6 1122.3 1038.9 1042.3M895.6 1219.8C945.5 1166.6 991.2 1110.4 1040.1 1056.1M895.4 1221.9C923.5 1186.5 953.5 1152.6 1038.6 1056.6M903.2 1220.8C946.6 1177.5 986.8 1128.1 1038.8 1069.1M902.9 1222.4C954.7 1163 1008.3 1101.2 1037.4 1067.5M912.5 1221.8C936.3 1195.5 963.4 1164.3 1037.4 1079.6M913.1 1222.8C945.8 1187.6 977 1150.7 1036.9 1080.8M925.4 1223.2C948.8 1194.4 975.8 1163.1 1036.9 1094.1M922.9 1223.3C967.4 1172.2 1012.5 1120.2 1037 1093.2M936.4 1222.7C966.1 1186.9 996.4 1151.9 1038 1105.9M934.9 1223.1C958.9 1193.7 984.4 1164.3 1037.7 1105M948.2 1222.1C978.5 1183.3 1011.2 1149.3 1035.9 1120.2M946.9 1220.6C979.3 1183 1011.6 1147.2 1037 1118.8M959.7 1219C990.7 1182.2 1018.7 1149 1036.3 1130.8M962.2 1217.9C989.9 1186.4 1015.5 1154.5 1036.9 1131.4M976.1 1213.8C992.8 1195.1 1006.8 1179.8 1035.4 1144.3M976.2 1212C997.8 1189.8 1016.7 1166.1 1036.9 1142.4M994.3 1204.8C1009.2 1189.5 1024 1172.8 1036.6 1157.2M991.8 1205.8C1003.1 1192.8 1016.7 1178.3 1035.5 1155.2M1011.8 1193.7C1022 1187 1030.1 1176 1034.2 1171.3M1013.2 1194.6C1020 1186.5 1028.6 1176.6 1034 1170.3M1016.2 940.9C1023.3 946.2 1031.5 952.5 1041.8 960.7M1017.6 941.5C1026.6 949.8 1035.4 955.6 1041.4 961.6M993.9 932.3C1010.1 947.3 1026 957.1 1041.4 971.9M995.5 932.5C1009.5 944.7 1025.4 957.8 1040.1 973.2M976.5 926.7C1001.7 947.9 1026 972.3 1039.2 981.3M975.6 927.5C998.9 946.9 1022.7 967.5 1041.3 982.3M959.2 922.4C987.3 948.7 1020 972.4 1041.6 994.7M958.6 923.3C989.4 950 1021.2 976.8 1039.5 992.7M944.7 920.5C969.7 942.6 995.4 964.6 1040.9 1001.6M944.9 919.5C975.7 947 1009.1 975.6 1040.5 1003.1M929.3 918.7C961.4 946 988.8 970.8 1038.2 1013.1M930.3 918.1C970.1 952.9 1010.5 988.6 1038.6 1012.7M919.4 916.9C955 948.5 989 977.5 1038 1023.2M917.6 918.1C946.7 943.9 976.7 971 1038.4 1023.5M906.8 921.2C949.8 956.3 992 994.3 1039.1 1033.2M906.7 919.7C952.3 961.5 1000.4 1002.7 1038.6 1033.6M894.5 920.6C953.1 969.7 1011 1021.3 1040 1043.4M896.5 920.9C942.5 961.7 989.2 1002.6 1037.8 1044.5M884 920.2C926.9 954.5 966.8 991.7 1037.2 1055.7M885.2 921.9C915.6 949.9 946.2 976.6 1037.4 1055.4M875.5 925.5C936.6 976.7 1000.3 1029.9 1036.1 1066.8M875.3 922.9C909.7 955.4 945.6 985.7 1037.2 1066.1M867.4 926.2C916 968.7 968.4 1016.3 1036.1 1075.1M865.3 925.4C912.8 965.6 956.2 1005.5 1038.2 1076.3M856 928.1C898.8 966.3 943.6 1006.3 1039.1 1087.1M857.1 928.7C920.5 981.7 982.9 1037 1037 1086.1M849.9 934.5C896.8 974.8 946.3 1015.8 1036.4 1096.9M849.1 932.9C906.5 986 965.4 1036 1037.6 1096.9M843.1 938.3C892.9 982.4 943.5 1023.7 1035.3 1108.7M842.3 938.4C891.2 978.6 939.8 1020.4 1036.9 1107M835.1 943C894.6 993.7 958.6 1047.1 1038.6 1119M836 943.2C882.4 982.6 929.4 1022.6 1036.2 1116.9M829.7 949.9C911.6 1019.6 992.1 1093.3 1035.8 1126.6M829.7 947.7C899.8 1009.2 969 1068 1036.7 1127.1M826.7 956.2C887 1009.3 950.8 1063.6 1035.8 1137.3M827 955C892.3 1013.2 958.8 1072 1036.1 1138.3M822.1 961.8C877.6 1010.4 932.4 1057.9 1035.3 1149.4M822.2 962.8C883.4 1016.9 943.6 1070.4 1036 1149.5M817.7 971.8C897.2 1038.7 977.9 1107.2 1035.2 1157.2M819.8 970.7C866.5 1012.2 914.8 1053.1 1037 1159.1M820.7 980.8C892.9 1049.3 967.6 1111.1 1034.7 1169.7M818.8 980.3C866.5 1019.5 913.4 1058.9 1034.4 1167.8M817.5 990.6C886 1049.5 951.8 1105.7 1033.3 1177.5M819.3 991.8C872.6 1038.7 926.8 1086.6 1032.1 1176.6M817.4 1002.7C868.9 1044.9 922.2 1094.9 1025.9 1182.6M818.6 1002C891.4 1066.4 965.8 1130.7 1027 1182.3M816.8 1010.5C887 1071.2 956.8 1130.2 1020.1 1189.6M817.5 1012.2C860 1046.2 900.7 1080.2 1020.8 1188.2M818.7 1022C870.1 1067.3 919.4 1114 1015.6 1195M817.8 1022.7C885.3 1083.9 952.7 1141.9 1014 1192.9M819.7 1032.5C867.3 1074.9 915.7 1114.2 1007.2 1197.8M817.1 1032C864.2 1075.1 912.4 1117 1007.8 1196.8M818.9 1042C878 1096.1 936.6 1146.9 1000.8 1200.6M818.6 1044.2C882.1 1096.4 943.7 1150.6 1000.2 1201.3M816.4 1054.5C875.1 1109 939.1 1161 992.1 1207M818 1053.9C883.5 1112.4 952.7 1171.5 992.1 1205.3M818.9 1064.2C872.5 1111.6 925.4 1161 984.7 1207.6M816.9 1064.5C856.6 1099.6 894.9 1133.5 983.3 1210M816.5 1074.6C853.4 1107.9 887.3 1138.6 975.6 1211.4M816.3 1074C858.4 1111.2 898.3 1145.2 974.9 1212.7M818.6 1085.6C871.1 1134.4 929.1 1179.5 966.4 1215.9M816.2 1085.8C873.7 1135.6 931.6 1184.2 966.5 1215.8M817.2 1094.4C849.8 1125.9 882.3 1156.2 958.4 1217.9M816.5 1096C852.8 1126.9 887.9 1157.8 957.6 1218.3M816.3 1104.6C860.8 1144.5 906.2 1186.1 950.3 1222.3M817.5 1106.3C851.3 1136.3 884.6 1166.5 948.7 1220.2M818.1 1117.4C846.9 1145.1 879.3 1171.8 939.9 1221.1M817.3 1117.2C850.3 1145.1 883.6 1174.5 938.1 1222.6M816.5 1126.8C852.1 1156.9 889.2 1188.2 927.9 1225.1M817.2 1126.9C841.9 1149.2 868 1170 928.5 1223.8M818.5 1136.2C848.5 1165.2 883.2 1194.2 915.2 1224.5M817.5 1138.3C854 1169.9 890.1 1201.4 914.5 1223.2M817.1 1149.7C848.2 1173.5 874.9 1198.7 901.9 1223.7M817.9 1149.5C848.2 1175.3 877.8 1202.6 901 1223.3M816.2 1158.1C833.4 1171.9 847.4 1183.1 885.9 1219.3M817.8 1160.3C839.5 1178.4 861.6 1197.8 884.1 1218.3M817.8 1169.9C829.2 1181.4 844.5 1192.1 865.2 1212.2M819.1 1171.9C835.8 1186.2 853.1 1200.1 865.3 1212.4" fill="none" stroke="#b2f2bb" stroke-width="1.25" />
<path d="M818.4 966.1C820.3 962.8 824.5 952.4 830.1 946.5C835.8 940.5 843.5 934.4 852.2 930.3C861 926.2 871.4 923.7 882.7 921.7C894 919.7 908.8 918.6 919.9 918.4C931 918.3 939.4 919.3 949.4 920.9C959.4 922.5 969.8 925.1 979.9 928.1C990 931 1001.7 935.2 1010.1 938.7C1018.5 942.2 1025.5 945 1030.5 949C1035.6 953.1 1039.4 959.6 1040.3 963.1C1041.2 966.7 1040.8 965.1 1035.7 970.5C1030.5 975.9 1018.6 989.6 1009.3 995.7C1000 1001.9 990.9 1004.8 979.8 1007.5C968.7 1010.3 955.4 1012.2 942.9 1012.3C930.3 1012.4 917.2 1010.4 904.6 1008.2C891.9 1006.1 878.2 1002.9 867 999.3C855.8 995.8 844.9 991.3 837.5 987C830 982.6 825.5 977 822.3 973.4C819.2 969.8 819 966.7 818.4 965.4C817.7 964.2 816.4 969.2 818.4 966.1C820.3 962.9 828.2 949.7 830.1 946.5M819.5 965.3C821.4 962.1 824.9 951.6 830.6 945.9C836.3 940.1 844.8 934.8 853.5 930.9C862.3 926.9 871.9 924.2 883 922.3C894.1 920.3 909.1 919.4 920.1 919.2C931.1 919 939 919.5 949.1 920.9C959.1 922.4 970.2 924.7 980.5 927.8C990.8 931 1002.4 936.3 1010.7 939.9C1019.1 943.4 1025.8 945.4 1030.6 949.2C1035.4 953 1038.7 959.2 1039.7 962.6C1040.7 966.1 1041.5 964.8 1036.4 970.2C1031.2 975.5 1018.1 988.5 1008.8 995C999.4 1001.5 991.3 1006.1 980.3 1009C969.2 1011.9 954.9 1012.5 942.4 1012.4C929.8 1012.3 917.6 1010.7 905 1008.4C892.4 1006.2 878 1002.7 866.8 999.1C855.6 995.6 845.1 991.6 837.6 987.2C830.1 982.8 825 976.1 821.8 972.7C818.6 969.3 818.7 968.1 818.4 966.8C818 965.6 817.5 968.8 819.5 965.3C821.5 961.8 828.8 949.1 830.6 945.9M1039.7 963C1039.4 969.9 1038.8 985.1 1038.1 1004.6C1037.5 1024.1 1036.1 1060.8 1035.7 1080.1C1035.2 1099.3 1035.7 1105.6 1035.5 1119.8C1035.4 1134 1035.6 1155 1034.6 1165C1033.7 1175.1 1033 1175.5 1029.6 1180.3C1026.2 1185.1 1020.5 1189.5 1014.2 1193.8C1008 1198.1 1000.4 1202.4 992.2 1206.2C984 1210 973.4 1213.9 965.1 1216.6C956.8 1219.3 949.8 1221.1 942.3 1222.4C934.8 1223.7 927.7 1224.5 920.2 1224.5C912.7 1224.6 905.1 1224.3 897.1 1222.8C889 1221.4 880.3 1218.9 872.1 1215.9C864 1212.9 855.3 1208.8 848.3 1205C841.2 1201.3 834.7 1197.5 829.8 1193.2C824.9 1189 821 1184.4 818.6 1179.6C816.2 1174.9 815.9 1174.7 815.4 1164.8C814.8 1154.9 815.2 1134.5 815.3 1120.3C815.4 1106.1 815.7 1096.5 815.9 1079.8C816.1 1063.1 815.9 1039.2 816.3 1020.3C816.7 1001.3 817.7 975.1 818 966.1M1038.2 962.4C1038.2 969.6 1038.6 985.8 1038.2 1005.4C1037.8 1025 1036.6 1060.9 1036 1080C1035.3 1099.1 1034.7 1106 1034.4 1120C1034.2 1134.1 1035.4 1154.6 1034.4 1164.6C1033.4 1174.5 1032 1174.8 1028.6 1179.5C1025.3 1184.2 1020.3 1187.9 1014.1 1192.5C1007.9 1197.1 999.9 1202.9 991.4 1206.9C982.9 1211 971.5 1214 963.2 1216.8C955 1219.5 949.3 1222 941.9 1223.2C934.6 1224.5 926.5 1224.3 919.3 1224.4C912.2 1224.4 906.5 1224.9 899 1223.4C891.5 1221.9 882.8 1218.4 874.4 1215.2C866.1 1212.1 856.3 1208.3 849.1 1204.7C841.8 1201 835.8 1197.3 830.9 1193.3C826.1 1189.3 822 1185.4 819.9 1180.6C817.7 1175.7 818.3 1174.4 817.8 1164.2C817.3 1154.1 816.9 1133.7 816.9 1119.6C816.8 1105.4 817.4 1096 817.5 1079.3C817.6 1062.6 817.4 1038.2 817.7 1019.3C818 1000.5 819.3 975.1 819.6 966.3M818.7 1179.9C819.9 1180.2 824 1180 826 1181.5C828 1183 828.7 1185.8 831 1189C833.3 1192.2 838.5 1199 840 1201M1021 985L1034.5 969.5" fill="none" stroke="#1e1e1e" stroke-width="1.75" stroke-linecap="round" stroke-linejoin="round"/>
<path d="M2890.7 475.9C2902.5 466.6 2908.9 454.7 2919.2 446.5M2892 476.6C2899.9 468.3 2908.2 460.6 2916.7 447.7M2892.2 488C2899.9 478.5 2909.9 471.2 2933.7 442.4M2892.9 489.8C2908.4 471.6 2923.4 454.1 2933.3 441.5M2890 502.8C2906.6 488.3 2918.2 473.4 2947 436.6M2892.4 501.9C2905.2 484.9 2920.3 468.1 2946.6 437.5M2890.5 513.5C2913.7 490.2 2937.5 461.9 2961.9 433.6M2891.9 513.8C2906.6 498.2 2919.8 482.5 2960 435.2M2889.6 528.1C2910.3 505.6 2929.8 482.1 2972.5 434.1M2890.6 527.4C2915.2 499.6 2940.2 470.8 2972.5 433.1M2892.6 537.9C2912.8 513.7 2934.2 490.1 2984.6 431.2M2890 539.7C2911.9 514.7 2932 491.5 2983.9 432.3M2890.3 553.2C2922.5 512.7 2957.4 472.9 2995.6 432.1M2890.5 551.6C2930.4 506.5 2971 460.5 2994.4 431.6M2889.1 565C2914.4 535 2938.4 509 3005.8 430.4M2890.4 565.3C2922.5 529.7 2952.9 494.4 3006.9 432.3M2890.4 578.7C2934 526.4 2980 475 3018.7 433M2890 577C2923.7 538.1 2956.7 498.8 3017.5 431.3M2891.3 589.3C2922 552.2 2954.6 512.3 3027.7 433.8M2889.9 590.1C2932.6 538.5 2977.4 488.7 3026.6 432.4M2888.4 603.5C2928.9 560.2 2966 513.4 3038 434.3M2890.9 602.6C2929.8 555.2 2970.1 509.7 3037.4 433.4M2889.7 612.7C2941.9 551.5 2999.2 490.8 3047.7 434.4M2888.9 613.9C2927.5 572.1 2964 530.5 3045.1 434.6M2890.2 628.3C2926.6 585.1 2961.1 543.2 3055.1 437.2M2889.9 626.4C2949.1 559 3008.1 491.1 3054.8 435.9M2891.1 639.5C2944 576.3 2997.2 515.9 3063.5 438.8M2890.2 639.4C2937.3 581 2985.3 524.7 3063.8 438.5M2891.2 649.2C2925.4 604.3 2965 558.7 3071.4 440.8M2890.4 650C2929.7 605.9 2968.2 560.6 3072.5 440.9M2891.8 661.4C2950.7 591.5 3011.8 520.4 3081.6 442.9M2890.8 663C2941 603.8 2992.4 544.3 3080.5 443.5M2890.2 673.8C2934 628.6 2975.5 580.1 3087.3 449.7M2890.2 674.7C2931.7 628 2971.8 580.9 3086.7 448.4M2891.6 684.6C2932.7 636.1 2977.3 587.8 3093.2 450.5M2891 684C2935.1 633.6 2979.9 582.7 3094.5 452.8M2895.6 694.8C2964.2 612.9 3037.1 531.7 3100.7 457.6M2895.3 694.1C2970.6 607.3 3045.5 520.7 3100.1 456.9M2901.3 699.8C2967.3 617.6 3038.5 536.8 3108 462.7M2900 699.4C2951.6 637.1 3005.9 575.4 3105.9 461.9M2904.4 704C2966.7 634.3 3030.5 559.9 3111.4 470.8M2905.1 705.4C2987.3 614.3 3068.4 521.1 3111.2 469.6M2912.2 709.9C2965.8 648.4 3019.1 585.3 3112.1 479.2M2911.7 710.5C2989.4 620.7 3064.9 533 3113.3 479.4M2917.9 715.4C2977.6 647.2 3036.5 580.5 3112.2 490.1M2919.8 713.9C2960.9 668.6 3000.9 621.9 3113.8 490.3M2926.4 718.1C2968 671.2 3005.2 628.1 3112.6 502.9M2926.5 718.3C2968.2 671.4 3009.9 624.6 3114.1 502.8M2934.9 722.3C3003.3 643 3070.9 567.6 3112.1 516.4M2934.4 722.2C2994.5 650.5 3054.2 581.3 3113.5 516.5M2941.2 724.8C2996.9 663.2 3051.7 599.4 3114.1 528.6M2941.2 725.4C3007.2 648.1 3073.4 571.8 3111.9 528.4M2948.7 727.7C3007.8 659.4 3067.6 592.8 3110.8 542.9M2949 728.6C2983.8 688.1 3019.6 648 3112.8 541.7M2959.7 729.9C2997.4 685.8 3041.5 636.4 3109.9 553.3M2959 730C3004.8 676.2 3051.1 622 3111.1 554.8M2967.2 732.5C3014.7 679.3 3059.7 625.2 3111.8 567.2M2966.1 733.3C3020.9 669.6 3074 606.5 3111.7 566.8M2976.6 735.8C3016.8 685.5 3061.8 635.1 3111.6 581.2M2976.9 734.5C3028.6 674.8 3080.2 614.8 3111.6 578.5M2987.6 737.2C3011.8 707.8 3035.5 678.6 3111.4 590.7M2986 734.9C3032.7 682.8 3079.7 627.5 3111.3 592.1M2995.8 735C3033.7 694.1 3069.5 651.5 3111.6 605.8M2996.3 736.8C3026.5 700.8 3059.3 664 3110.9 605.1M3007 735.8C3046.2 692 3085.4 644.3 3110.9 617.5M3007.6 735.9C3046.5 689.5 3086.5 645 3109.7 616.4M3020.9 732.9C3055 692.9 3087.3 653.7 3111.1 628.3M3018.4 732.7C3047.2 701.6 3076.3 669.4 3110.8 628.7M3034 729.2C3051.6 706.1 3070.8 682.3 3110.2 643.3M3033.3 730.5C3059.6 699.7 3085.1 670.2 3109.3 641.7M3047.2 726.1C3062.7 706.2 3077.1 691.2 3109.5 655.6M3047.9 725.5C3062.8 708.2 3077.8 691.1 3110.2 653.3M3065.2 716.6C3076.7 702.7 3088.6 690 3110.7 668.1M3065.1 717.6C3080.7 698.1 3098.6 678.2 3109 667M3083.8 706.4C3091.3 698.9 3100.2 687.1 3107.4 679.8M3083.8 708.1C3089.8 701.4 3095.9 693.9 3106.7 681.5M3080.1 445.9C3092.6 452.5 3102.2 464.2 3113.4 473.1M3080.5 443.7C3087.3 451.3 3096.2 458 3111.2 471.1M3060.7 437.5C3074 449.6 3085.4 459.4 3113.1 483.6M3059.9 438.5C3079.3 454 3099.6 471.1 3114.8 483.5M3042.6 436.2C3069.5 458.7 3097.1 481.1 3112.5 493.4M3044.8 434C3060.9 449 3076.7 463.1 3113.4 493.9M3031.6 430.8C3056.1 453.3 3083 477.7 3114.6 506.1M3030 432.7C3056.7 454.9 3084 477.8 3113.6 504.3M3017.6 430.1C3045.9 456.4 3071.2 480.9 3111.5 513.7M3016.1 431.3C3040.8 451.8 3065.3 472.6 3113.4 514.6M3004 430.4C3042.5 464.5 3082.4 498.6 3111.9 526.5M3004 431.7C3043.7 466.4 3083.7 500.3 3111.8 525.4M2992 431.9C3023.1 459.1 3056.4 486.7 3114.1 534.9M2992.8 432C3041.6 473.6 3089.4 515.6 3112.2 536.6M2983.5 433.4C3009.5 455.6 3034.4 480 3112.2 546.5M2981.2 432.2C3032.6 477 3081.1 519.6 3111.8 545.5M2970.1 435.7C3011.8 470.4 3055.9 509.4 3110.6 557.3M2971 433.1C3016.9 473.9 3062.5 513.8 3111.2 556.2M2961.5 435.1C3008.7 478.6 3061.7 522.9 3112.2 565.8M2960.3 435.2C2996.5 467 3034.7 498 3111.3 566.5M2952.1 436.2C3006.2 483.9 3064.5 536.1 3112.6 575.4M2950.2 437.9C2997.9 478.3 3046.9 518.6 3110.5 577.2M2940.9 441.5C3006.1 497.2 3071.5 555.1 3112 586.2M2940.7 438.8C2984.8 475.3 3026.4 511.3 3109.7 587.3M2931.4 443.6C2971.2 477.9 3011.5 510.8 3111.4 599.1M2932.5 442.7C2972.6 477.7 3014.5 512.7 3110.7 597.7M2924.9 446.1C2993.9 508.7 3068.5 568.9 3111.4 607.2M2924 445.2C2974 486.4 3021.9 529 3109.6 607.5M2914.5 451C2993.3 514.6 3067.4 581.6 3108.6 618.7M2916.2 449.5C2990.3 514.2 3065.1 580.3 3110.5 619.2M2907.3 455C2962.5 502.6 3016.8 549.5 3108.5 628.8M2909.2 453.6C2974 510 3038.8 566.8 3110 629.5M2902.1 460.7C2948.9 498.5 2991 536.4 3109.2 640.6M2903.2 458.8C2978 527 3054.3 593.4 3109.2 640.1M2899.1 464.5C2962.2 521.6 3023.4 577.8 3108.7 650.3M2897.5 466.1C2952.2 512 3007.8 559.7 3109.3 650.8M2892 471C2946.3 519 3003.4 566.5 3108.9 662.1M2892.9 473.4C2968.2 536 3042.9 601.3 3109.9 660.2M2891.5 480.5C2943.1 526.4 2996.1 570 3110.5 670.7M2893.2 482.2C2939.7 524.6 2984.7 564.1 3108.9 671.4M2891.1 493.1C2936.1 531.8 2979.7 567.9 3106.8 678.9M2891.6 493.6C2970.7 561.8 3051.7 631.4 3107.4 680M2893.3 503.4C2948.3 549.6 3004.1 599.5 3104.8 687.7M2891.2 502.7C2944.9 548.7 2997 593.4 3104 688.4M2890.8 512.1C2952.5 569.7 3015.3 621.2 3099.1 695.3M2891.3 512.7C2970.5 581.9 3050.9 651.3 3100.7 694.4M2892.2 522.9C2947.5 573.5 3002.3 618.7 3092.3 699.6M2890.8 524.5C2934.6 558.9 2976.5 595.7 3093.2 700.2M2891.4 534.3C2947.7 585.8 3003 634.4 3086.7 703.9M2890.8 534.2C2957.8 591.1 3025.5 651 3087.3 706.1M2890.1 544.7C2950.3 596.6 3011 649.5 3081.4 708.2M2890.8 545.4C2939.7 588.5 2989.8 633.2 3079.8 708.7M2890.5 556.8C2927.8 588.5 2967.4 618.8 3072.2 715.2M2891 554.9C2955.8 610.9 3017.8 665.5 3073 714.2M2890 567.5C2959.8 625.2 3026.5 686.7 3067.5 717.7M2889.9 565.8C2929.7 601.5 2969.1 637 3065.5 718.1M2890.9 575.1C2934.6 611.2 2976.9 648.5 3057.1 720.5M2890.6 575.5C2932.4 611.5 2976.2 649.1 3057.3 720.4M2889 586.5C2936.5 627.7 2985.6 671.9 3047.7 723M2890.9 586.1C2923.9 616.9 2956.8 645.4 3049.3 724.9M2890.2 595.9C2940 640.2 2990.1 681.6 3040.3 729.5M2890.3 596.2C2920.3 624.7 2950.9 650.8 3039.7 726.9M2891.3 608.5C2930.4 642.2 2968.6 675.9 3030 728.9M2890.3 608C2925.4 638.5 2960.8 669.8 3030.4 729.7M2888.8 619.5C2916.1 641.8 2944 667.8 3021.3 732.9M2889.1 618C2939.7 660.2 2991.4 703.8 3022 732.9M2890 630C2933 665.2 2979.4 706 3013.6 733.2M2890.3 627.9C2916.1 651.9 2941.8 673.6 3012.7 735.4M2889.8 639.1C2914.6 664.1 2943.5 687 3001.9 736.2M2889.9 639.2C2924.1 669.6 2960.1 699.6 3001 735.1M2891 651.4C2927.5 682.9 2966 714.7 2990.3 737.2M2889.4 650.4C2914.7 672.9 2941.3 695.3 2988.2 735.4M2890.1 659.7C2915.3 682.6 2941.9 707.8 2975.9 734.1M2890.4 659.8C2918 687.1 2947.8 713.1 2975.4 734.5M2891.2 670.5C2915.9 695.1 2939.2 715.8 2959 730.2M2890.9 670.5C2910.9 689.9 2933.1 709 2959.2 731.2M2892.7 681.4C2900.3 690.9 2911.2 700.2 2936.7 724.9M2891.7 682.3C2907.9 696.7 2924.1 710.3 2939.3 724.8" fill="none" stroke="#b2f2bb" stroke-width="1.25" />
<path d="M2891.5 474C2892.8 472 2895.7 465.7 2899.5 461.5C2903.4 457.3 2908.3 452.1 2914.7 448.6C2921 445.1 2930 442.8 2937.6 440.5C2945.2 438.3 2951.5 436.6 2960.3 435.2C2969.1 433.9 2981.7 432.8 2990.4 432.3C2999.1 431.8 3005.1 431.9 3012.5 432.1C3019.9 432.3 3027.5 432.8 3035 433.6C3042.5 434.5 3050 435.3 3057.5 437.2C3065 439.2 3074 442.6 3080.2 445.3C3086.4 447.9 3090.1 450.1 3094.6 453.2C3099.1 456.3 3104.3 460.4 3107.1 464C3110 467.6 3111.4 471.2 3111.7 474.7C3112.1 478.2 3113.5 480.5 3109.5 485C3105.4 489.4 3096.2 496.4 3087.5 501.5C3078.8 506.6 3068.4 511.6 3057.1 515.4C3045.8 519.1 3030.8 522.6 3019.7 524.2C3008.6 525.7 3000.4 525.7 2990.4 524.8C2980.3 523.8 2969.6 521.2 2959.5 518.2C2949.5 515.3 2938.8 511.1 2930.1 507.1C2921.3 503 2913.1 498.3 2907 493.9C2901 489.6 2896.2 484.1 2893.5 480.8C2890.9 477.6 2891.4 475.5 2891 474.4C2890.7 473.3 2890 476.2 2891.5 474C2892.9 471.9 2898.2 463.6 2899.5 461.5M2890.8 474.8C2892.5 472.4 2896.9 464.8 2900.9 460.6C2904.9 456.3 2908.7 452.5 2914.7 449.2C2920.7 445.9 2929.4 443.2 2937 440.9C2944.5 438.6 2951.1 436.7 2960 435.4C2968.9 434 2981.7 433 2990.3 432.6C2998.9 432.1 3004.1 432.7 3011.5 432.8C3018.9 432.9 3026.9 432.1 3034.5 433C3042.1 434 3049.4 436.6 3057.1 438.6C3064.8 440.7 3074.5 442.9 3080.8 445.2C3087 447.6 3090.1 449.6 3094.6 452.6C3099.1 455.6 3104.9 459.6 3107.7 463.2C3110.5 466.8 3111.2 470.5 3111.4 474.1C3111.6 477.6 3112.8 480.2 3108.6 484.6C3104.5 489 3095.2 495.2 3086.6 500.4C3078.1 505.5 3068.4 511.7 3057.4 515.6C3046.3 519.4 3031.4 521.9 3020.2 523.2C3009 524.6 3000.4 524.4 2990.3 523.6C2980.2 522.8 2969.6 521.3 2959.7 518.6C2949.8 515.9 2939.4 511.4 2930.8 507.3C2922.3 503.2 2914.4 498.4 2908.3 493.9C2902.1 489.4 2896.7 483.7 2894.1 480.6C2891.4 477.4 2892.6 475.9 2892.1 474.9C2891.5 474 2889.3 477.1 2890.8 474.8C2892.3 472.4 2899.2 462.9 2900.9 460.6M3112.8 475.1C3112.6 482 3112 497.3 3111.4 516.8C3110.8 536.3 3109.7 572.8 3109.2 592.1C3108.7 611.3 3108.7 618.1 3108.4 632.3C3108 646.4 3108.1 667 3107.1 676.9C3106.1 686.8 3105.8 687 3102.4 691.8C3099.1 696.5 3093.3 701.2 3087 705.6C3080.8 709.9 3073 714 3064.7 717.9C3056.5 721.8 3045.7 726.2 3037.4 729C3029.2 731.7 3022.7 733 3015.3 734.3C3007.8 735.6 3000.1 736.6 2992.7 736.6C2985.2 736.6 2978.7 735.8 2970.7 734.3C2962.7 732.8 2953 730.4 2944.7 727.6C2936.4 724.7 2928 720.8 2921 717.2C2914 713.5 2907.7 709.8 2902.9 705.6C2898.1 701.4 2894.5 697 2892 692.2C2889.6 687.4 2889 686.9 2888.3 676.8C2887.7 666.7 2888.3 645.7 2888.3 631.5C2888.3 617.4 2888.3 608.4 2888.5 591.8C2888.7 575.2 2889 551.1 2889.4 532.1C2889.9 513.1 2890.9 486.9 2891.2 477.9M3111.6 474.4C3111.4 481.4 3110.7 496.7 3110.2 516.1C3109.7 535.6 3108.9 571.8 3108.6 591.2C3108.3 610.5 3108.7 617.9 3108.3 632.2C3107.8 646.4 3107.1 667.1 3106 676.9C3104.9 686.7 3105 686.5 3101.8 691.1C3098.5 695.7 3092.8 700.2 3086.6 704.6C3080.4 708.9 3072.8 713.1 3064.6 717.2C3056.4 721.4 3045.5 726.7 3037.3 729.5C3029.1 732.3 3022.8 733 3015.3 734.1C3007.8 735.2 2999.5 736 2992.2 736.2C2985 736.3 2979.4 736.8 2971.9 735.3C2964.4 733.7 2955.5 730 2947.3 727C2939 724.1 2929.8 721.2 2922.6 717.7C2915.4 714.1 2908.9 710.2 2904.2 705.9C2899.5 701.7 2896.5 696.7 2894.2 692C2891.9 687.3 2891 687.6 2890.3 677.5C2889.5 667.4 2889.8 645.7 2889.8 631.3C2889.8 616.9 2889.8 607.8 2890.1 591.2C2890.4 574.6 2891.4 550.7 2891.9 531.9C2892.4 513.1 2892.9 487.4 2893.2 478.5M2891.7 691.9C2892.9 692.2 2896.9 692 2899 693.5C2901.1 695 2901.7 697.8 2904 701C2906.3 704.2 2911.5 711 2913 713M3094 497L3107.5 481.5" fill="none" stroke="#1e1e1e" stroke-width="1.75" stroke-linecap="round" stroke-linejoin="round"/>
<path d="M1525.7 530.1C1533.8 519.7 1540.5 509.1 1548.1 500.5M1524.8 527.8C1531.6 519.4 1537.4 513 1548.5 500.9M1519.1 549.4C1529.5 534.2 1539.3 525.4 1558.2 500.2M1517.7 547.5C1530 532.1 1544 518.1 1560.6 499.8M1514.7 561.6C1527.6 551 1537 539.2 1571.5 498.9M1516 562.5C1529.1 545.6 1545.3 530.4 1569.8 499.2M1512.6 578.1C1529.5 559.1 1542.8 542.5 1583 497.5M1513 577.9C1530.3 555.5 1547.9 536.3 1581.3 499.2M1515 590.6C1544 553.9 1571.8 518.3 1592.3 499.9M1513.7 589.8C1538.4 559.9 1564.1 531.2 1592.3 498.3M1512.6 602C1547.1 561.6 1581.8 521.3 1603.3 499.2M1513 601.1C1541.4 568.6 1569.9 535.5 1603.6 499.7M1515.6 612.1C1552.1 568.2 1591.5 523.5 1613.7 500M1515 613.1C1552.8 567.9 1592.1 524.7 1613 499.2M1514.8 623C1549.5 583.8 1581 545.3 1624.2 500.2M1516.8 622.6C1544.7 590.5 1575.2 557.1 1624.8 499M1518.3 632.5C1564 578.9 1608 529.5 1635.3 498.2M1517.9 633.2C1554.6 592.8 1590 550.7 1634.2 498.3M1522.3 641.8C1565.5 591.1 1612.8 538.2 1644.8 499.8M1520.1 642.7C1558.9 595.6 1598.6 549.8 1646.3 497.5M1521.4 652.5C1567.2 600.4 1610.3 550.7 1656.6 499.9M1523.3 652C1571.1 597.3 1620.9 540.4 1655.7 498.8M1527.7 659.2C1562.9 615.1 1604.6 573 1665.9 499.9M1527 658.7C1575 601.9 1624.5 545.3 1666.3 498M1532 666.5C1567 624.7 1598.5 586.5 1678.7 497.5M1530.8 666.5C1568.8 621 1607.1 576 1678 497.4M1536.4 673.9C1583.4 622.9 1628.7 570.3 1689.1 498.7M1535.3 673.8C1571.7 630.5 1608.4 587.8 1689.5 497.1M1542.2 679.3C1600.8 617.8 1654 551.2 1698.1 497.7M1541.4 680.5C1575.6 641.3 1609.7 601.8 1698.5 498.5M1548.1 686.2C1594.8 629.2 1641.7 572.9 1709.4 497.6M1546.4 684.3C1578.6 645.4 1612.3 607.5 1709.6 496.7M1554.2 687.7C1593.4 643.8 1635.3 596.7 1721 497M1554.6 688.6C1591.5 646.9 1627.7 606.2 1721.2 497.1M1564.1 688C1620.9 626.1 1676.2 563.7 1731.7 495.5M1565.2 689.3C1614 632.3 1662.6 577.1 1731.7 497.7M1577.1 687.4C1630.7 625.9 1686.9 559.6 1741.4 496.8M1576.3 688.6C1623 637.8 1668.2 584 1741.6 496.2M1587 689.3C1632.9 638.2 1674.7 588.7 1751.1 500.4M1586.3 689.5C1650.7 615.3 1713.6 541.5 1750.9 499.2M1595.1 690.1C1660 616.8 1723.7 541.3 1757.1 504.8M1596.5 688.9C1653.9 624.4 1710.2 558.9 1757.4 504.3M1605.6 690.6C1660.8 627.1 1715 566 1763.1 509.1M1606.6 689.1C1644.2 647.1 1682.8 602.7 1762.3 510.5M1617.9 690.4C1677.2 621.3 1736 552.9 1768.6 519.1M1616.5 690.4C1653.9 644.5 1690.3 602.2 1767.4 516.8M1628 691.9C1680.7 630.2 1731.1 570.9 1770.7 524.6M1627.1 690.1C1669.3 645 1710.1 597.4 1770.7 525.3M1635.5 692.7C1668.2 655.4 1703.8 617.6 1773.4 531.6M1637.6 690.4C1677.4 642.2 1717.9 595.8 1773.4 533.8M1647 690.1C1692.5 639.2 1740 587.6 1777.1 541.1M1646.6 690.6C1682.5 654 1715 615.1 1777.3 542M1657.5 692.8C1705 640.2 1751.6 585.4 1780.8 550.4M1657.1 692.1C1688 653.3 1721.6 616.4 1779.3 552.4M1667.9 692.9C1692.7 664.9 1716.6 638.3 1782.6 563.2M1667.8 691.3C1712.6 641 1756.3 590.6 1780.7 561.4M1678 693.6C1705.7 661.3 1733.2 628.4 1782.9 572.9M1678.7 693.1C1709.2 654.7 1740.2 618.5 1781.9 572.4M1690 692.8C1724.2 655.6 1755.8 614.9 1784.5 585M1687.8 692.1C1721.1 655.3 1754 617.5 1782.8 583.6M1699.7 694.4C1720 668.9 1741.1 643.2 1782.5 594.9M1698.6 693.8C1733.6 653.8 1766.1 615.8 1783.5 595.1M1708.4 693.7C1733.4 664.8 1756.8 640.5 1785.2 608M1708.5 693.4C1734.8 665.2 1758.7 635.8 1782.5 608M1721.1 695.2C1743.5 668.6 1764.2 644 1780.7 621.2M1718.6 693.4C1740.7 668.9 1761.5 644.2 1783.1 622.5M1729.7 696C1743.6 677.5 1761.3 657.6 1779 635.1M1730.5 693.5C1749.5 671.6 1768.4 648.3 1779.6 635.7M1739.3 692.7C1748 682.5 1759.4 672.9 1774.4 652.2M1739.5 695.3C1754.5 678.8 1767.6 663.7 1776.2 654.2M1756.5 688.2C1758.9 686.5 1759.4 684.3 1763.1 678.7M1756.2 689.4C1757.8 685.8 1760.1 684.4 1764 678.6M1745.4 497.8C1751.8 503.5 1757.7 507.7 1766.7 519.6M1743.6 497.8C1750.4 502.6 1756.8 508.8 1767.9 518.7M1730.4 495.8C1741 504.9 1750.5 514.1 1773.8 534.3M1731.1 496.4C1746.2 509.9 1759.4 522.8 1774.8 534.7M1720.7 498.1C1731.7 507.8 1744 517 1777.2 550.1M1718.8 497.2C1741.7 518.6 1766 539.1 1779.5 550.1M1706.3 499C1729.9 516.7 1754.2 535 1779.6 563.1M1706.6 497.6C1723.1 511.7 1740.7 526.7 1780.6 561.4M1694 496C1727.1 526.6 1754.1 550.8 1784.5 573.9M1695.5 497.7C1717.3 518.5 1741.4 538.2 1782.9 573.2M1683.8 496.1C1720.7 532 1762.5 567.5 1782.4 584.6M1683.8 498.4C1706.2 515.4 1727.6 534.5 1783.4 585.3M1669.8 498.9C1712.5 535.2 1757.9 572.2 1782.4 597.8M1670.9 497.9C1696 519 1721.3 540.5 1784 595.4M1660.8 498.5C1707.5 537.8 1758.4 582.7 1784 604.9M1658.3 498.5C1682.5 519.8 1708.4 541.3 1783.7 606.4M1648.7 499.8C1676.6 525.1 1705.8 549.5 1781.7 616.4M1646.6 497.7C1680 527.2 1711.7 556.1 1782.3 616.2M1634.5 499.6C1663.7 522 1693.5 549.2 1782.1 625.1M1634.5 498.9C1676.1 535.1 1717.2 570.6 1782.7 625.8M1623.3 500.3C1661.8 532.2 1696.2 565.2 1781.2 636.8M1622.3 499.5C1672.4 539.6 1720.4 581.7 1780.3 636.1M1612.8 500.2C1647.7 531.4 1687.3 564.6 1778.3 642.8M1611.5 498.5C1662.4 541.3 1713.7 586.9 1778.9 643.6M1598.7 498C1652.3 541 1702.1 585.3 1777.6 653M1599.8 499.8C1639 535 1678.8 569.8 1775.7 652.2M1586.5 497.4C1638.8 544.1 1689.8 590.1 1772.3 659.8M1586.7 499.1C1657.9 561.2 1728 621.3 1773.8 661.4M1574.8 497.6C1643.8 558.5 1709.8 615.3 1770.2 667.5M1575.4 500C1640.2 555.5 1704.8 611.7 1769.6 668M1561.4 498.9C1637.2 564.7 1712.5 629.8 1767.4 674.5M1563.9 500.3C1625.5 555.2 1688.1 608.3 1765.6 675.2M1550 500.7C1616 554.7 1679.6 610.2 1760.6 682.2M1551.6 499.6C1614.8 558.8 1679.9 614.3 1760.7 681.8M1543.9 502.5C1591.9 544.9 1639.4 585.4 1757 689.7M1543.5 502.7C1586 539.6 1629.8 577.2 1756.4 688.9M1538.5 508C1619.9 581.1 1704.2 652.2 1748.7 694.7M1536.6 508.4C1617.6 578.5 1700 649.9 1749.5 693.7M1530.4 516.2C1580.8 556 1629.8 597.1 1738.8 695.3M1532.2 514.1C1614.4 586.3 1695.3 655.8 1738.4 695M1529.1 520.8C1601.2 583.8 1675 648.2 1724.2 692.4M1526.9 520.9C1603.6 584 1677.4 649.3 1725.2 694.6M1525.2 529.2C1569.9 567.5 1613.2 609.4 1714.6 693.3M1524.9 529.3C1586.5 583.2 1650.1 637.4 1712.6 693M1521.8 538.4C1577.4 589.9 1637.5 637 1702.3 693.1M1520.3 536.1C1568.9 579.4 1617 620.8 1701.2 693.9M1517.2 544.7C1569.6 590.6 1622.4 635.6 1689.7 691.2M1518.2 544.8C1570.8 591.9 1624.6 637.6 1688.2 692.3M1514.6 553.9C1556.8 588.7 1598.8 628 1674.9 693.8M1517.1 554C1554.7 588.5 1592.9 619.5 1676 692M1515.8 563C1560.4 607.7 1608.5 648.5 1662.4 693.4M1515.6 564.1C1556.8 599.9 1599.2 635.9 1662.9 692.4M1514.8 574.3C1545.1 601.5 1579.2 630 1651.5 689.6M1513.4 572.6C1550.3 606.2 1585.8 637.2 1649.5 690.9M1514.7 584.6C1551.3 618.5 1593.4 650.2 1635.9 690.1M1513 584.1C1545.2 612.1 1578.3 640.7 1637 691M1513 595.3C1555.1 630.1 1592.6 664.1 1624.7 690.9M1513.2 593.7C1553 627.5 1592.5 661.9 1623.9 691M1512.9 606.2C1539 628.8 1564 649.7 1610.1 689.3M1513.5 605.6C1548 634.4 1582 664.7 1611.6 691M1514.6 615.1C1540.6 637.7 1562.1 657.8 1597.7 690.9M1515.5 615.9C1548.3 645.3 1581.2 673.4 1599 689.1M1517.4 629.7C1537.7 647.7 1558.3 666.3 1586.4 690M1516.4 629.1C1536.7 645.9 1554.7 662.2 1586.2 688.6M1519.7 642.9C1539.9 660.9 1563.7 678.1 1573.8 689.9M1520.4 643.2C1532.3 653.5 1543.8 662.2 1572.8 689.1M1524.5 658.4C1537.5 670.2 1551 678.5 1562.7 689.1M1527.2 658.7C1535.2 667.3 1546 674.6 1560.4 688.2" fill="none" stroke="#d0bfff" stroke-width="1.25" />
<path d="M1749 499.4C1750.6 500.7 1755.6 503.8 1758.6 507.1C1761.6 510.4 1764.4 514.6 1767.1 519.3C1769.8 524 1772.5 529.4 1774.6 535.5C1776.7 541.6 1778.4 548.7 1779.7 555.9C1781 563.1 1782 571.3 1782.5 578.9C1783.1 586.5 1783 593.8 1782.8 601.5C1782.7 609.2 1782.7 617.5 1781.8 625C1780.8 632.5 1778.8 639.6 1777 646.4C1775.1 653.1 1773.3 660 1770.9 665.4C1768.6 670.9 1765.7 675.3 1762.9 679.2C1760 683.2 1757.1 686.8 1754 689.1C1751 691.5 1747.9 693.2 1744.5 693.6C1741.2 694 1737.2 692.9 1734 691.5C1730.7 690.1 1727.9 688.3 1724.8 685.2C1721.8 682 1718.1 677.6 1715.5 672.7C1712.9 667.9 1711.2 662.1 1709.2 656C1707.2 649.8 1704.9 643.1 1703.5 635.9C1702.1 628.7 1701.5 620.6 1701 612.9C1700.5 605.1 1700.2 597.1 1700.3 589.4C1700.4 581.6 1700.7 573.8 1701.6 566.4C1702.6 559 1704.2 551.6 1706 545C1707.8 538.4 1710.1 532.3 1712.5 526.9C1715 521.5 1717.8 516.5 1720.7 512.5C1723.6 508.5 1726.8 505.2 1729.9 502.8C1732.9 500.3 1735.9 498.5 1739.1 498C1742.4 497.5 1747.7 499.5 1749.4 499.8M1748.6 498.1C1750.3 499.4 1756.1 502.4 1759.3 505.6C1762.4 508.7 1765.2 512.3 1767.7 517.1C1770.3 522 1772.5 528.5 1774.6 534.8C1776.7 541.2 1778.9 548.1 1780.2 555.2C1781.6 562.3 1782.1 569.6 1782.8 577.3C1783.5 584.9 1784.3 593.1 1784.2 601C1784.1 608.9 1783.5 617.2 1782.4 624.6C1781.3 632.1 1779.2 639.2 1777.5 645.9C1775.8 652.6 1774.7 659.1 1772.3 664.7C1770 670.4 1766.3 675.5 1763.4 679.8C1760.5 684.1 1757.9 687.9 1754.8 690.3C1751.6 692.8 1747.8 694 1744.5 694.4C1741.2 694.8 1738 694.2 1734.7 692.8C1731.4 691.5 1727.6 689.5 1724.5 686.3C1721.4 683.1 1718.8 678.4 1716.1 673.4C1713.3 668.5 1710.3 662.9 1708.2 656.8C1706.1 650.8 1704.8 644.2 1703.6 637.2C1702.4 630.1 1701.5 622.3 1700.8 614.6C1700.1 606.8 1699.1 598.8 1699.3 590.8C1699.5 582.9 1701 574.5 1701.9 566.9C1702.8 559.2 1703.3 551.9 1704.9 545.1C1706.5 538.3 1709 531.7 1711.4 526C1713.8 520.4 1716.1 515.3 1719.1 511.2C1722.1 507 1726 503.5 1729.3 501.1C1732.6 498.8 1735.8 497.3 1739 496.9C1742.2 496.5 1747.1 498.7 1748.7 498.9C1750.3 499.1 1748.6 498.3 1748.6 498.1M1555.1 499.7C1604.4 498.8 1651.8 499.5 1741.5 498.3M1554.9 500.1C1610.2 500.7 1664.4 499.1 1742.4 496.6M1557.3 688.6C1611.2 691.2 1661.7 693.8 1742.6 696M1557.6 688.3C1596.7 688.4 1633.8 690.5 1741.5 694.1M1633 497.3L1698 495.8M1554 499.4C1552.5 499.8 1547.9 500.3 1545 501.8C1542 503.3 1539 505.4 1536.1 508.5C1533.2 511.6 1530.1 515.9 1527.6 520.3C1525.1 524.7 1523.1 529.7 1521.3 535.1C1519.5 540.5 1518.3 546.6 1517 552.8C1515.7 559 1514.1 565.7 1513.4 572.5C1512.8 579.3 1512.9 586.8 1513.1 593.7C1513.3 600.7 1513.8 607.6 1514.6 614.5C1515.3 621.3 1516.1 628.4 1517.7 634.8C1519.3 641.1 1521.7 647.1 1523.9 652.6C1526.2 658.1 1528.7 663.4 1531.2 667.8C1533.8 672.2 1536.3 676.2 1539.1 679.2C1541.9 682.3 1545 684.5 1548.2 686C1551.4 687.6 1556.7 688 1558.4 688.3M1555.3 498.6C1553.8 499 1549.2 499.4 1546.2 501.1C1543.1 502.8 1539.8 505.4 1537.1 508.5C1534.4 511.7 1532.3 515.6 1529.9 520C1527.5 524.5 1524.9 529.8 1522.9 535.2C1520.9 540.7 1519.2 546.4 1517.9 552.7C1516.7 558.9 1516.2 566 1515.6 572.9C1515 579.8 1514.2 586.9 1514.4 593.8C1514.5 600.8 1515.6 608 1516.5 614.7C1517.5 621.5 1518.4 628.1 1519.9 634.6C1521.4 641 1523.6 647.6 1525.6 653.3C1527.6 659 1529.3 664.4 1531.8 668.7C1534.3 672.9 1537.8 675.9 1540.6 678.9C1543.5 681.8 1546 684.8 1549.1 686.4C1552.2 688 1557.8 688 1559.5 688.4M1589.4 500.7C1588 501.1 1583.5 501.6 1580.8 503.2C1578 504.8 1575.5 507.3 1572.8 510.4C1570.1 513.4 1567 516.9 1564.6 521.4C1562.2 525.8 1560.4 531.4 1558.4 537C1556.4 542.6 1554.2 548.8 1552.6 555.3C1551 561.7 1549.9 569 1549 576C1548.1 583 1547.5 590.2 1547.1 597.2C1546.7 604.2 1546.4 611 1546.6 618C1546.7 625 1547.3 632.5 1548.2 639C1549.1 645.5 1550.2 651.4 1551.8 656.9C1553.5 662.4 1556 667.5 1558.1 671.9C1560.1 676.3 1561.8 680.3 1564.3 683.4C1566.7 686.6 1569.8 689.3 1572.6 690.8C1575.4 692.3 1579.5 692.2 1580.9 692.5M1591.4 500.3C1589.9 500.8 1585.3 501.5 1582.4 503.2C1579.6 504.9 1577.1 507.4 1574.5 510.6C1571.9 513.7 1569.2 517.8 1566.7 522.2C1564.2 526.7 1561.6 531.7 1559.6 537.3C1557.6 542.9 1556.2 549.2 1554.6 555.7C1553 562.3 1551 569.4 1550 576.5C1549 583.7 1549.2 591.4 1548.8 598.6C1548.5 605.9 1547.7 612.9 1547.8 619.8C1548 626.8 1548.7 633.9 1549.7 640.4C1550.8 647 1552.7 653.4 1554.2 659.1C1555.7 664.7 1556.8 669.8 1558.6 674.4C1560.5 679 1563 683.4 1565.4 686.5C1567.8 689.6 1570.3 691.6 1572.9 693.2C1575.5 694.7 1579.7 695.3 1581.1 695.7M1633.4 497.8C1631.8 498.2 1626.8 498.5 1623.7 500.1C1620.5 501.7 1617.4 504.3 1614.5 507.4C1611.5 510.6 1608.7 514.7 1606 519.1C1603.2 523.5 1600.2 528.4 1598 534C1595.9 539.6 1594.6 546.3 1593 552.8C1591.5 559.3 1589.8 566 1588.9 573C1587.9 579.9 1587.6 587.4 1587.3 594.6C1587 601.8 1586.6 609.1 1587 616.2C1587.4 623.2 1588.5 630.3 1589.7 636.8C1591 643.3 1592.7 649.5 1594.4 655C1596.2 660.6 1597.9 665.8 1600.2 670.3C1602.6 674.7 1605.6 678.8 1608.4 681.9C1611.3 685 1614.4 687.2 1617.5 688.7C1620.5 690.3 1625.1 690.9 1626.6 691.4M1633.9 497.7C1632.4 498.1 1628.1 498.5 1625.1 500.1C1622.1 501.8 1618.5 504.6 1615.7 507.6C1612.8 510.7 1610.5 514 1607.8 518.5C1605.1 522.9 1601.8 528.5 1599.5 534.3C1597.2 540 1595.4 546.6 1593.9 553.1C1592.4 559.5 1591.3 566.1 1590.5 573.1C1589.7 580.1 1589.4 587.9 1589.1 595C1588.8 602.2 1588.2 609.2 1588.6 616.1C1588.9 623.1 1589.9 630.1 1591 636.6C1592.1 643.2 1593.5 649.9 1595.3 655.5C1597.1 661.1 1599.2 665.8 1601.7 670.3C1604.1 674.8 1607.2 679.2 1609.9 682.4C1612.6 685.5 1614.9 687.7 1617.8 689.2C1620.8 690.6 1625.9 690.9 1627.5 691.2M1668.2 500.4C1666.7 500.7 1662 501.1 1659.2 502.6C1656.3 504.2 1653.8 506.5 1651 509.6C1648.3 512.7 1645.2 517 1642.8 521.3C1640.3 525.7 1638.4 530.2 1636.5 535.7C1634.7 541.3 1633 548.1 1631.5 554.5C1630 560.9 1628.5 567.4 1627.6 574.3C1626.7 581.3 1626.1 589.2 1626.1 596.4C1626.1 603.5 1627 610.4 1627.6 617.3C1628.1 624.1 1628.5 630.9 1629.6 637.3C1630.7 643.7 1632.6 650.1 1634.4 655.7C1636.2 661.3 1637.9 666.5 1640.3 670.9C1642.6 675.3 1645.9 679 1648.6 682.2C1651.3 685.3 1653.9 688.1 1656.7 689.7C1659.5 691.3 1664 691.3 1665.5 691.6M1669.3 499.1C1668 499.6 1664.2 500.6 1661.4 502.4C1658.6 504.1 1655.4 506.6 1652.5 509.5C1649.6 512.5 1646.6 515.9 1644.2 520.3C1641.9 524.7 1640.1 530.4 1638.3 536C1636.5 541.6 1634.8 547.5 1633.3 554C1631.8 560.5 1630.1 567.9 1629.4 574.8C1628.6 581.8 1628.7 588.6 1628.6 595.6C1628.4 602.7 1628 609.8 1628.5 617C1628.9 624.1 1630.2 632 1631.4 638.4C1632.7 644.9 1634.1 650.3 1635.9 655.8C1637.7 661.4 1640 667.1 1642.2 671.7C1644.3 676.3 1646.3 680.5 1648.9 683.5C1651.5 686.6 1655 688.7 1657.9 690.2C1660.8 691.6 1665 691.9 1666.4 692.2M1698.6 501.8C1697 502.2 1692.2 502.8 1689.3 504.4C1686.4 506.1 1683.8 508.7 1681.2 511.7C1678.6 514.7 1676.1 518.2 1673.7 522.5C1671.4 526.8 1669 531.9 1667 537.4C1665 542.9 1663 549.3 1661.7 555.5C1660.4 561.8 1659.8 568.2 1659.1 575C1658.4 581.8 1657.5 589.2 1657.4 596.3C1657.3 603.5 1657.9 611.2 1658.5 618C1659.1 624.8 1659.8 630.9 1661 637.1C1662.2 643.4 1663.9 650 1665.7 655.6C1667.6 661.2 1669.8 666.4 1672.1 670.7C1674.3 675.1 1676.7 678.9 1679.4 681.8C1682 684.7 1685.3 686.7 1688.1 688.3C1691 689.8 1695.1 690.8 1696.5 691.3M1700.4 501.9C1698.8 502.3 1693.7 502.9 1690.7 504.4C1687.6 505.8 1684.9 507.8 1682.2 510.8C1679.5 513.7 1676.7 517.8 1674.4 522.3C1672.1 526.7 1670 532 1668.2 537.4C1666.5 542.8 1665.3 548.5 1664 554.8C1662.7 561.1 1661.3 568.6 1660.4 575.5C1659.6 582.3 1658.8 588.9 1658.7 595.9C1658.7 603 1659.6 611 1660.3 617.9C1660.9 624.8 1661.4 631 1662.6 637.3C1663.8 643.6 1665.7 650.1 1667.5 655.7C1669.2 661.3 1670.9 666.4 1673 670.9C1675.2 675.4 1677.8 679.6 1680.4 682.7C1683 685.8 1685.8 687.9 1688.8 689.4C1691.7 691 1696.4 691.7 1697.9 692.1" fill="none" stroke="#1e1e1e" stroke-width="1.7" stroke-linecap="round"/>
<path d="M422.4 599.8C444.7 600.4 510 603 556 603.3C602.1 603.7 675 602.1 698.8 601.9M422.6 600.2C444.9 600.7 510.3 602.7 556.3 603C602.3 603.2 675 602.1 698.8 601.9M651.1 585C655 586.6 666.6 591.8 674.6 594.6C682.5 597.5 694.7 600.7 698.8 601.9M651.3 584.9C655.1 586.5 666.2 591.4 674.1 594.2C682 597.1 694.6 600.6 698.8 601.9M651.1 618.9C655 617.3 666.6 612.2 674.5 609.4C682.5 606.5 694.7 603.1 698.8 601.9M650.6 619.3C654.5 617.7 666 612.6 674 609.7C682 606.8 694.6 603.2 698.8 601.9" fill="none" stroke="#1e1e1e" stroke-width="1.8" stroke-linecap="round" stroke-linejoin="round"/>
<path d="M1173.8 597.6C1192.3 597.1 1238.9 594.2 1284.9 594.6C1330.8 595 1422 599.1 1449.4 600M1174 598.1C1192.6 597.5 1239.6 593.9 1285.5 594.3C1331.4 594.6 1422.1 599 1449.4 600M1401.9 580.4C1405.7 582.2 1417.2 588.1 1425.1 591.4C1433 594.7 1445.3 598.6 1449.4 600M1401.4 580.3C1405.4 582.2 1417.4 588.2 1425.3 591.5C1433.3 594.7 1445.4 598.6 1449.4 600M1400.5 615.6C1404.5 614.1 1416.6 609.1 1424.8 606.5C1432.9 603.9 1445.3 601.1 1449.4 600M1400.9 615.8C1404.8 614.2 1416.4 608.9 1424.5 606.3C1432.6 603.7 1445.2 601.1 1449.4 600" fill="none" stroke="#1e1e1e" stroke-width="1.8" stroke-linecap="round" stroke-linejoin="round"/>
<path d="M1819.1 592.9C1841.7 593.3 1909.8 594.9 1954.8 595.2C1999.7 595.6 2066.4 595 2088.8 595M1819.6 593.1C1842.2 593.5 1910.1 594.9 1954.9 595.2C1999.8 595.6 2066.4 595 2088.8 595M2040.4 577.7C2044.4 579.4 2056.2 584.8 2064.2 587.6C2072.3 590.5 2084.7 593.8 2088.8 595M2040.6 578C2044.6 579.5 2056.2 584.3 2064.2 587.2C2072.2 590 2084.7 593.7 2088.8 595M2040.7 612.9C2044.7 611.2 2056.2 605.6 2064.2 602.6C2072.2 599.6 2084.7 596.3 2088.8 595M2040.6 612.7C2044.6 611.1 2056.5 605.8 2064.5 602.8C2072.6 599.9 2084.7 596.3 2088.8 595" fill="none" stroke="#1e1e1e" stroke-width="1.8" stroke-linecap="round" stroke-linejoin="round"/>
<path d="M2580.5 601C2604.2 601.2 2676.7 601.8 2722.7 602.1C2768.8 602.3 2834.5 602.6 2856.9 602.8M2580.3 600.4C2603.9 600.6 2675.9 601.3 2722 601.7C2768.1 602 2834.4 602.6 2856.9 602.8M2808 585.3C2812 586.9 2824.1 592.3 2832.3 595.2C2840.4 598.1 2852.8 601.5 2856.9 602.8M2808 585.2C2812 586.8 2824.1 592 2832.3 595C2840.4 597.9 2852.8 601.5 2856.9 602.8M2807.9 620.4C2812 618.7 2824 613.2 2832.1 610.2C2840.3 607.3 2852.8 604 2856.9 602.8M2807.7 619.8C2811.8 618.2 2824.3 612.8 2832.6 610C2840.8 607.1 2852.8 604 2856.9 602.8" fill="none" stroke="#1e1e1e" stroke-width="1.8" stroke-linecap="round" stroke-linejoin="round"/>
<path d="M936.1 791.5C936.2 801.2 936.7 829.7 937.1 849.9C937.6 870.2 938.4 902.5 938.6 913M935.7 790.9C935.9 800.7 936.7 829.2 937.1 849.5C937.6 869.9 938.4 902.4 938.6 913M919.9 867.6C921.6 871.3 927.1 882.3 930.2 889.8C933.3 897.4 937.2 909.1 938.6 913M919.6 867.8C921.5 871.4 927.5 882 930.6 889.5C933.8 897 937.3 909.1 938.6 913M954.1 865.1C952.6 869 947.6 880.6 945 888.6C942.4 896.6 939.7 908.9 938.6 913M954.2 865.4C952.6 869.3 947.4 880.5 944.8 888.4C942.2 896.3 939.6 908.9 938.6 913" fill="none" stroke="#1e1e1e" stroke-width="1.8" stroke-linecap="round" stroke-linejoin="round"/>
<path d="M1076.5 1074L1622 1144.5" fill="none" stroke="#1e1e1e" stroke-width="2.8" stroke-dasharray="16 18" stroke-linecap="round"/>
<path d="M2854.5 691L2180 1121" fill="none" stroke="#1e1e1e" stroke-width="2.8" stroke-dasharray="16 18" stroke-linecap="round"/>
<path d="M111.7 676.4C112 670.5 112.5 652.1 113.8 640.7C115 629.3 117.2 617.2 119.2 608.2C121.2 599.2 122.8 593.5 125.7 586.6C128.6 579.8 132.1 573.2 136.6 567.1C141.1 561 147.2 555 152.8 549.8C158.4 544.6 164.7 539.3 170.1 535.7C175.5 532.1 180.6 529.6 185.3 528.1C190 526.6 193.6 526.5 198.3 527C203 527.5 208 528.7 213.4 531.4C218.8 534.1 225.4 538.4 230.8 543.3C236.2 548.2 240.8 553.8 245.9 560.6C251 567.5 256.4 576.5 261.1 584.4C265.8 592.3 270.3 600.6 274.1 608.2C277.9 615.8 281.5 623.4 283.8 629.9C286.1 636.4 287.7 641.8 288.1 647.2C288.5 652.6 288 658.2 286 662.4C284 666.5 280.7 669.8 276.2 672.1C271.7 674.4 268.3 675.3 258.9 676.4C249.5 677.5 235.4 678.4 219.9 678.6C204.4 678.8 183.8 677.9 165.8 677.5C147.8 677.1 120.7 676.6 111.7 676.4Z" fill="#eaddd7" stroke="#1e1e1e" stroke-width="2.6" stroke-linejoin="round"/>
<path d="M109.5 678.5C109.9 672.2 110.8 652.6 112 641C113.2 629.4 115 618.2 117 609C119 599.8 120.9 593.2 124 586C127.1 578.8 130.8 572.2 135.5 566C140.2 559.8 146.2 553.8 152 548.5C157.8 543.2 164.3 538.1 170 534.5C175.7 530.9 181.2 528.2 186 526.8C190.8 525.4 194.3 525.5 199 526C203.7 526.5 208.5 527.3 214 530C219.5 532.7 226.5 537.2 232 542C237.5 546.8 244.5 556.2 247 559" fill="none" stroke="#1e1e1e" stroke-width="1.6" stroke-linecap="round"/>
<ellipse cx="195.6" cy="488.4" rx="43.5" ry="37" fill="#eaddd7" stroke="none"/>
<path d="M208.9 453.2C211.8 454.6 221.7 457.8 226.4 461.5C231.1 465.3 234.9 470.8 237 475.9C239 481 239.5 486.9 238.8 492.2C238.1 497.4 235.9 503 232.8 507.5C229.6 512.1 225.1 516.4 219.9 519.5C214.8 522.5 208.2 525.1 201.8 525.8C195.3 526.4 187.3 525.1 181.2 523.4C175.2 521.7 169.8 519.2 165.4 515.5C160.9 511.9 156.6 506.4 154.4 501.4C152.3 496.3 151.5 490.5 152.3 485.2C153 479.9 155.9 474.1 159.1 469.5C162.3 464.9 166.4 460.5 171.5 457.6C176.7 454.7 183.7 452.6 190 452C196.3 451.3 206 453.4 209.2 453.7M216.6 456.1C219.1 457.8 227.8 462.1 231.3 466.5C234.9 470.9 236.9 477.3 237.9 482.4C239 487.5 239.3 492.1 237.7 497.1C236.2 502.2 232.8 508.1 228.6 512.5C224.4 516.9 218.4 521 212.5 523.3C206.6 525.6 199.5 526.7 193.3 526.3C187.1 525.9 180.8 523.4 175.3 520.7C169.8 518.1 164.1 514.6 160.2 510.4C156.3 506.2 153.1 500.9 152 495.8C150.9 490.7 151.8 484.8 153.7 479.7C155.5 474.5 158.8 468.7 163.1 464.7C167.3 460.6 173.3 457.3 179 455.1C184.8 452.9 191.3 451.1 197.5 451.3C203.7 451.5 212.9 455.3 216.1 456.1C219.2 456.9 216.5 456.1 216.6 456.1" fill="none" stroke="#1e1e1e" stroke-width="2.3" stroke-linecap="round"/>
<path d="M1376.9 409.3C1377.9 408.8 1380.6 406.6 1382.7 406.6C1384.8 406.6 1386.8 407.4 1389.7 409.3C1392.6 411.2 1396.1 414.4 1400.2 418C1404.3 421.6 1409.9 427.1 1414.2 430.8C1418.4 434.5 1422.9 438.2 1425.8 440.1C1428.7 442.1 1429.1 442.9 1431.7 442.5C1434.2 442.1 1436.5 440.9 1441 437.8C1445.4 434.7 1452.6 428.9 1458.5 423.8C1464.3 418.8 1470.9 412.2 1475.9 407.5C1481 402.8 1485.3 397.5 1488.8 395.9C1492.3 394.2 1494.5 396.3 1496.9 397.6C1499.3 398.9 1502.9 401 1503.3 403.4C1503.7 405.9 1501.9 409.2 1499.2 412.2C1496.6 415.2 1492.4 417.8 1487.6 421.5C1482.7 425.2 1475.4 430 1470.1 434.3C1464.9 438.6 1459.5 443.1 1456.1 447.1C1452.7 451.2 1450.3 455.3 1449.7 458.8C1449.1 462.3 1450.2 464 1452.6 468.1C1455.1 472.2 1460.4 479 1464.3 483.3C1468.2 487.5 1472.2 490.6 1475.9 493.7C1479.6 496.9 1484.2 499.6 1486.4 501.9C1488.7 504.2 1489.5 505.8 1489.3 507.7C1489.1 509.7 1487.1 512.4 1485.3 513.6C1483.4 514.7 1480.8 515.5 1478.3 514.7C1475.7 513.9 1473.4 512 1470.1 508.9C1466.8 505.8 1462.5 500.3 1458.5 496.1C1454.4 491.8 1449.5 486.8 1445.6 483.3C1441.8 479.8 1438.1 476.7 1435.1 475.1C1432.2 473.4 1430.7 473 1428.2 473.4C1425.6 473.7 1423.7 474.4 1420 477.4C1416.3 480.4 1410.7 486.6 1406 491.4C1401.4 496.3 1395.9 502.9 1392 506.6C1388.1 510.3 1385.6 512.5 1382.7 513.6C1379.8 514.6 1376.6 514.1 1374.5 513C1372.5 511.8 1370.9 509 1370.5 506.6C1370.1 504.1 1370.2 501.9 1372.2 498.4C1374.3 494.9 1378.6 490.2 1382.7 485.6C1386.8 480.9 1392.8 474.9 1396.7 470.4C1400.6 466 1403.9 461.5 1406 458.8C1408.2 456.1 1409.9 456.5 1409.5 454.1C1409.1 451.8 1406.2 448.7 1403.7 444.8C1401.2 440.9 1397.9 435.1 1394.4 430.8C1390.9 426.5 1385.7 421.9 1382.7 419.2C1379.7 416.4 1377.3 416.2 1376.3 414.5C1375.3 412.8 1376.8 410.1 1376.9 409.3Z" fill="#ffc9c9" stroke="#ffc9c9" stroke-width="1.5" stroke-linejoin="round"/>
<path d="M1377.5 410.1C1378.5 409.6 1381.4 407.2 1383.5 407.2C1385.6 407.3 1387.3 408.3 1390.2 410.2C1393 412.1 1396.7 415.1 1400.8 418.7C1404.9 422.2 1410.5 427.8 1414.7 431.5C1418.9 435.2 1423.2 439 1426.2 441C1429.2 443 1429.9 443.8 1432.5 443.4C1435.1 443 1437.3 441.7 1441.7 438.5C1446.1 435.3 1453.2 429.4 1459 424.4C1464.8 419.3 1471.7 412.7 1476.7 408.2C1481.7 403.6 1485.8 398.6 1489.2 397C1492.7 395.4 1494.9 397.5 1497.4 398.7C1499.9 400 1503.6 402.1 1504 404.4C1504.4 406.7 1502.5 409.8 1499.9 412.7C1497.3 415.7 1493.2 418.4 1488.3 422.1C1483.5 425.8 1476 430.6 1470.6 434.9C1465.3 439.1 1459.9 443.7 1456.4 447.8C1453 451.9 1450.5 455.9 1450 459.5C1449.5 463.1 1451 465.2 1453.5 469.3C1455.9 473.3 1461 479.6 1464.8 483.8C1468.7 487.9 1472.8 491.1 1476.4 494.2C1480.1 497.4 1484.6 500.5 1486.8 502.8C1489.1 505.1 1490.2 506.3 1490 508.2C1489.9 510.1 1487.7 513.1 1485.9 514.3C1484 515.5 1481.3 516.1 1478.8 515.3C1476.3 514.5 1473.9 512.5 1470.6 509.4C1467.4 506.4 1463.2 501.2 1459.2 497C1455.1 492.7 1450.2 487.5 1446.3 484C1442.5 480.5 1439 477.5 1436.1 475.8C1433.1 474.2 1431.1 473.7 1428.5 474.1C1426 474.4 1424.5 474.9 1420.9 478C1417.3 481.1 1411.5 487.6 1406.8 492.5C1402.1 497.4 1396.8 503.7 1392.9 507.3C1389 511 1386.2 513.5 1383.3 514.6C1380.3 515.7 1377.4 515.2 1375.3 514C1373.2 512.8 1371.2 509.9 1370.8 507.4C1370.5 504.9 1370.9 502.5 1373 499C1375 495.6 1379 491.3 1383.1 486.6C1387.2 482 1393.4 475.7 1397.3 471.2C1401.3 466.6 1404.5 462.2 1406.6 459.4C1408.7 456.7 1410.3 457 1409.9 454.6C1409.5 452.3 1406.7 449.1 1404.2 445.4C1401.8 441.6 1398.7 436.2 1395.2 431.9C1391.8 427.7 1386.4 422.5 1383.4 419.7C1380.3 416.9 1377.9 416.7 1377 415.1C1376 413.5 1376.4 411.4 1377.5 410.1C1378.6 408.8 1382.5 407.7 1383.5 407.2M1378.2 411C1379.2 410.5 1382.2 408.1 1384.4 408.1C1386.6 408.1 1388.4 408.8 1391.3 410.7C1394.3 412.7 1397.9 416.3 1402.1 419.9C1406.2 423.5 1411.8 428.7 1416.1 432.2C1420.4 435.7 1425 439.2 1427.8 440.9C1430.5 442.6 1430.4 442.9 1432.7 442.4C1435.1 441.9 1437.4 441 1441.8 437.9C1446.2 434.8 1453.4 429.3 1459.2 424.1C1464.9 418.9 1471.2 411.5 1476.1 406.8C1481.1 402 1485.7 397.1 1489 395.5C1492.4 393.8 1494 395.6 1496.3 397C1498.6 398.3 1502.4 400.8 1502.8 403.4C1503.3 405.9 1501.6 409.2 1498.9 412.3C1496.3 415.4 1491.9 418.3 1486.9 422C1482 425.7 1474.7 430.1 1469.4 434.5C1464.1 438.9 1458.5 444 1455.2 448.2C1451.9 452.5 1449.9 456.4 1449.5 460C1449.1 463.6 1450.5 465.5 1453 469.7C1455.5 473.9 1460.3 480.9 1464.3 485.2C1468.3 489.5 1473 492.2 1477 495.4C1480.9 498.5 1485.6 501.5 1487.8 503.9C1490 506.3 1490.4 507.9 1490.2 509.8C1490.1 511.8 1488.8 514.4 1487.1 515.6C1485.4 516.7 1482.4 517.7 1479.8 516.8C1477.2 516 1474.9 513.9 1471.6 510.7C1468.3 507.4 1464.2 501.9 1460.2 497.5C1456.2 493 1451.4 487.6 1447.4 484C1443.5 480.4 1439.5 477.8 1436.5 476C1433.5 474.2 1432 473.1 1429.5 473.4C1426.9 473.6 1425 474.7 1421.1 477.6C1417.3 480.6 1411.1 486.3 1406.3 491.1C1401.4 495.9 1396 502.7 1392 506.4C1388 510.1 1385.2 512.4 1382.2 513.4C1379.3 514.4 1376.3 513.8 1374.3 512.5C1372.3 511.3 1370.4 508.5 1370 506C1369.5 503.6 1369.5 501.4 1371.5 498C1373.5 494.6 1377.8 490.4 1381.9 485.9C1386 481.4 1392.2 475.1 1396.2 470.8C1400.1 466.5 1403.4 462.6 1405.7 460C1407.9 457.3 1409.9 457.2 1409.6 454.9C1409.2 452.6 1406.2 449.8 1403.8 446.1C1401.3 442.4 1398.5 436.9 1395.1 432.7C1391.7 428.6 1386.4 424 1383.4 421.3C1380.5 418.5 1378.3 418 1377.4 416.3C1376.6 414.6 1377 412.3 1378.2 411C1379.3 409.6 1383.4 408.6 1384.4 408.1M1476.5 406.6L1489.1 393.2" fill="none" stroke="#1e1e1e" stroke-width="2.0" stroke-linecap="round" stroke-linejoin="round"/>
<path d="M3129.4 342C3130.4 341.5 3133.1 339.3 3135.2 339.3C3137.3 339.3 3139.3 340.1 3142.2 342C3145.1 343.9 3148.6 347.1 3152.7 350.7C3156.8 354.3 3162.4 359.8 3166.7 363.5C3170.9 367.2 3175.4 370.9 3178.3 372.8C3181.2 374.8 3181.6 375.6 3184.2 375.2C3186.7 374.8 3189 373.6 3193.5 370.5C3197.9 367.4 3205.1 361.6 3211 356.5C3216.8 351.5 3223.4 344.9 3228.4 340.2C3233.5 335.5 3237.8 330.2 3241.3 328.6C3244.8 326.9 3247 329 3249.4 330.3C3251.8 331.6 3255.4 333.7 3255.8 336.1C3256.2 338.6 3254.4 341.9 3251.7 344.9C3249.1 347.9 3244.9 350.5 3240.1 354.2C3235.2 357.9 3227.9 362.7 3222.6 367C3217.4 371.3 3212 375.8 3208.6 379.8C3205.2 383.9 3202.8 388 3202.2 391.5C3201.6 395 3202.7 396.7 3205.1 400.8C3207.6 404.9 3212.9 411.7 3216.8 416C3220.7 420.2 3224.7 423.3 3228.4 426.4C3232.1 429.6 3236.7 432.3 3238.9 434.6C3241.2 436.9 3242 438.5 3241.8 440.4C3241.6 442.4 3239.6 445.1 3237.8 446.3C3235.9 447.4 3233.3 448.2 3230.8 447.4C3228.2 446.6 3225.9 444.7 3222.6 441.6C3219.3 438.5 3215 433 3211 428.8C3206.9 424.5 3202 419.5 3198.1 416C3194.3 412.5 3190.6 409.4 3187.6 407.8C3184.7 406.1 3183.2 405.7 3180.7 406.1C3178.1 406.4 3176.2 407.1 3172.5 410.1C3168.8 413.1 3163.2 419.3 3158.5 424.1C3153.9 429 3148.4 435.6 3144.5 439.3C3140.6 443 3138.1 445.2 3135.2 446.3C3132.3 447.3 3129.1 446.8 3127 445.7C3125 444.5 3123.4 441.7 3123 439.3C3122.6 436.8 3122.7 434.6 3124.7 431.1C3126.8 427.6 3131.1 422.9 3135.2 418.3C3139.3 413.6 3145.3 407.6 3149.2 403.1C3153.1 398.7 3156.4 394.2 3158.5 391.5C3160.7 388.8 3162.4 389.2 3162 386.8C3161.6 384.5 3158.7 381.4 3156.2 377.5C3153.7 373.6 3150.4 367.8 3146.9 363.5C3143.4 359.2 3138.2 354.6 3135.2 351.9C3132.2 349.1 3129.8 348.9 3128.8 347.2C3127.8 345.5 3129.3 342.8 3129.4 342Z" fill="#ffc9c9" stroke="#ffc9c9" stroke-width="1.5" stroke-linejoin="round"/>
<path d="M3130.3 342.5C3131.3 342.1 3134.1 339.8 3136.1 339.9C3138.2 340 3139.9 341.1 3142.8 343C3145.6 345 3149.1 347.9 3153.2 351.5C3157.2 355.1 3162.7 361 3167 364.6C3171.4 368.3 3176.4 371.5 3179.3 373.4C3182.2 375.3 3182 376.3 3184.5 375.9C3187 375.6 3189.6 374.6 3194.1 371.5C3198.6 368.4 3205.7 362.5 3211.4 357.4C3217.2 352.3 3223.8 345.5 3228.8 340.8C3233.8 336.1 3238 331 3241.6 329.4C3245.1 327.8 3247.5 329.9 3250.1 331.2C3252.6 332.4 3256.4 334.4 3256.7 336.8C3257.1 339.2 3254.9 342.6 3252.2 345.6C3249.6 348.7 3245.9 351.2 3241 354.9C3236.1 358.5 3228.3 363.5 3223.1 367.8C3217.8 372 3212.8 376.4 3209.4 380.5C3205.9 384.6 3203.2 388.9 3202.6 392.4C3202 396 3203.4 397.6 3205.8 401.7C3208.2 405.7 3213.2 412.3 3217 416.6C3220.9 420.8 3225 424 3228.8 427.2C3232.6 430.3 3237.5 433.4 3239.8 435.7C3242.1 438.1 3242.9 439.2 3242.7 441.1C3242.4 443.1 3240.3 446.2 3238.4 447.3C3236.5 448.5 3233.8 449 3231.3 448.2C3228.7 447.3 3226.6 445.4 3223.4 442.3C3220.1 439.2 3215.6 433.7 3211.5 429.5C3207.5 425.2 3202.9 420.3 3199 416.8C3195 413.2 3190.9 410 3188 408.3C3185 406.6 3183.8 406.2 3181.4 406.6C3178.9 407 3176.9 407.7 3173.2 410.7C3169.5 413.8 3163.8 420 3159.1 424.8C3154.5 429.6 3149.1 436.1 3145.2 439.8C3141.3 443.5 3138.7 446 3135.7 447.2C3132.8 448.3 3129.5 447.9 3127.5 446.8C3125.5 445.7 3124.2 442.8 3123.9 440.4C3123.6 438 3123.6 435.7 3125.6 432.2C3127.6 428.7 3131.8 424.1 3135.9 419.3C3139.9 414.6 3145.8 408.1 3149.7 403.6C3153.7 399.2 3157.3 395.3 3159.4 392.6C3161.5 389.9 3162.9 389.9 3162.4 387.5C3162 385.2 3159.1 382.3 3156.6 378.4C3154.1 374.6 3150.7 368.8 3147.2 364.5C3143.7 360.2 3138.4 355.4 3135.5 352.6C3132.5 349.8 3130.5 349.7 3129.6 348C3128.7 346.3 3129.2 343.9 3130.3 342.5C3131.4 341.2 3135.2 340.3 3136.1 339.9M3130.5 343.6C3131.6 343.1 3134.8 340.8 3137.1 340.8C3139.3 340.8 3140.9 342 3143.8 343.8C3146.7 345.6 3150.2 348.2 3154.4 351.7C3158.6 355.2 3164.5 361.3 3168.8 364.9C3173.1 368.4 3177.4 371.3 3180.2 373.2C3183 375.1 3183.2 376.5 3185.6 376C3188.1 375.6 3190.3 373.7 3194.7 370.3C3199.1 367 3206.5 361.3 3212.3 356.2C3218 351 3224 344.1 3229 339.5C3233.9 334.8 3238.4 329.9 3241.8 328.3C3245.2 326.6 3247 328.6 3249.3 329.8C3251.5 331 3254.9 333.3 3255.2 335.7C3255.5 338.1 3253.8 341 3251.1 344.2C3248.5 347.3 3244.6 350.7 3239.6 354.5C3234.7 358.3 3226.7 362.7 3221.5 367C3216.2 371.4 3211.6 376.1 3208.3 380.4C3204.9 384.7 3202 389.2 3201.5 392.8C3201 396.4 3202.9 397.9 3205.5 402.1C3208.1 406.3 3213.2 413.3 3217.1 417.7C3221 422.1 3225.2 425.3 3229.1 428.5C3233 431.7 3237.9 434.7 3240.3 437C3242.7 439.4 3243.6 440.8 3243.5 442.7C3243.4 444.6 3241.4 447.4 3239.6 448.5C3237.8 449.7 3235.3 450.4 3232.8 449.5C3230.3 448.5 3228.1 446 3224.7 442.8C3221.4 439.6 3216.7 434.6 3212.5 430.2C3208.4 425.9 3203.7 420.3 3199.9 416.6C3196 412.9 3192.3 409.8 3189.4 408.1C3186.5 406.3 3184.9 405.8 3182.3 406.1C3179.7 406.4 3177.7 407 3174 409.9C3170.2 412.8 3164.5 418.9 3159.7 423.6C3154.9 428.4 3149.2 434.8 3145.1 438.5C3141.1 442.1 3138.2 444.4 3135.2 445.6C3132.2 446.8 3129.2 446.6 3127.1 445.4C3125 444.3 3123 441 3122.5 438.6C3122 436.1 3122.1 434.1 3124.1 430.8C3126 427.5 3130 423.1 3134.1 418.7C3138.2 414.3 3144.6 408.7 3148.6 404.2C3152.6 399.7 3156.1 394.6 3158.4 392C3160.7 389.3 3162.5 390.3 3162.2 388.1C3161.9 386 3159.2 382.7 3156.7 378.9C3154.3 375.1 3150.8 369.7 3147.3 365.6C3143.8 361.4 3138.7 356.5 3135.7 353.8C3132.8 351 3130.6 350.8 3129.8 349.1C3128.9 347.4 3129.2 344.9 3130.5 343.6C3131.7 342.2 3136 341.3 3137.1 340.8M3229 339.3L3241.6 325.9" fill="none" stroke="#1e1e1e" stroke-width="2.0" stroke-linecap="round" stroke-linejoin="round"/>
<path d="M1011 842.9C1012.1 843.7 1015 844.6 1017.6 847.6C1020.3 850.6 1023.6 855.8 1027 860.9C1030.3 866 1034.1 873.2 1037.6 878.2C1041.2 883.2 1045.8 888.3 1048.3 890.9C1050.7 893.5 1051.6 893.1 1052.3 893.6C1053.2 891.2 1054.7 884.6 1057.6 879.6C1060.5 874.6 1064.5 870.7 1069.6 863.6C1074.7 856.5 1081.8 846 1088.3 836.9C1094.7 827.8 1102.5 817.2 1108.2 809C1114 800.7 1118.7 793.4 1122.9 787.6C1127.1 781.9 1131.8 776.5 1133.6 774.3C1134.1 774.9 1137.8 774.5 1136.9 777.7C1136 780.8 1131.9 786.2 1128.2 793C1124.6 799.7 1119.8 808.7 1114.9 818.3C1110 827.8 1104.5 839.6 1098.9 850.3C1093.4 860.9 1086.5 873.6 1081.6 882.2C1076.7 890.9 1073.4 897.1 1069.6 902.2C1065.8 907.3 1062.5 910.4 1058.9 912.9C1055.4 915.3 1051.8 916.9 1048.3 916.9C1044.7 916.9 1040.7 915.5 1037.6 912.9C1034.5 910.2 1032.5 906.2 1029.6 900.9C1026.8 895.6 1023 887.6 1020.3 880.9C1017.6 874.2 1015.3 866.9 1013.7 860.9C1012.1 854.9 1011.2 847.9 1010.7 844.9C1010.3 841.9 1010.9 843.3 1011 842.9Z" fill="#b2f2bb" stroke="#b2f2bb" stroke-width="1.2" stroke-linejoin="round" transform="translate(0.8,1.2)"/>
<path d="M1011 842.9C1012 843.7 1014.7 844.4 1017.3 847.4C1020 850.5 1023.4 855.9 1026.7 861C1030.1 866.1 1034.1 873.1 1037.6 878.1C1041.2 883.1 1045.5 888.5 1048 891.1C1050.4 893.7 1051.6 893.2 1052.3 893.6M1052.3 893.6C1053.2 891.2 1054.8 884.6 1057.7 879.7C1060.6 874.7 1064.7 871 1069.8 863.9C1074.8 856.7 1081.5 845.8 1087.9 836.7C1094.3 827.6 1102.4 817.3 1108.2 809.1C1114.1 801 1118.7 793.5 1122.9 787.7C1127.1 781.9 1131.8 776.5 1133.6 774.3M1133.6 774.3C1134.1 774.8 1137.6 774.3 1136.7 777.5C1135.9 780.6 1132.2 786.6 1128.5 793.4C1124.9 800.2 1119.9 808.8 1114.9 818.3C1109.9 827.8 1104.2 839.7 1098.6 850.3C1093 861 1086.2 873.7 1081.4 882.3C1076.5 891 1073.1 897.1 1069.4 902.2C1065.7 907.3 1062.8 910.3 1059.2 912.7C1055.7 915.2 1051.9 916.7 1048.3 916.7C1044.7 916.8 1040.7 915.8 1037.6 913.2C1034.5 910.6 1032.5 906.6 1029.6 901.3C1026.7 895.9 1022.9 887.6 1020.2 880.9C1017.6 874.1 1015.3 866.9 1013.8 860.9C1012.2 854.9 1011.3 847.8 1010.9 844.8C1010.4 841.8 1011 843.2 1011 842.9M1011 842.9C1011.9 843.7 1013.9 844.5 1016.4 847.4C1018.9 850.3 1022.3 855 1025.8 860.3C1029.4 865.5 1034 873.6 1037.9 878.7C1041.8 883.9 1047 888.9 1049.4 891.4C1051.8 893.8 1051.8 893.2 1052.3 893.6M1052.3 893.6C1053.2 891.2 1054.9 884.3 1057.8 879.2C1060.6 874.1 1064.6 870.1 1069.5 863C1074.5 856 1080.7 846.1 1087.2 837C1093.7 827.9 1102.5 816.7 1108.6 808.5C1114.6 800.2 1119.4 793.4 1123.5 787.7C1127.7 782 1131.9 776.6 1133.6 774.3M1133.6 774.3C1134 775 1137.5 775.6 1136.4 778.6C1135.3 781.6 1130.6 785.7 1127 792.4C1123.3 799.1 1119.2 808.9 1114.4 818.7C1109.7 828.6 1103.9 841 1098.3 851.5C1092.6 862.1 1085.4 873.6 1080.6 882.1C1075.8 890.7 1073.2 897.9 1069.5 902.9C1065.8 907.8 1061.7 909.5 1058.3 912C1054.9 914.5 1052.3 917.3 1048.9 917.6C1045.5 917.9 1041.1 916.7 1037.8 913.9C1034.6 911.1 1032.3 906.4 1029.4 900.8C1026.4 895.1 1022.8 886.8 1020.3 879.9C1017.8 873.1 1016.3 865.4 1014.5 859.8C1012.7 854.1 1010.2 848.8 1009.6 846C1009 843.2 1010.8 843.4 1011 842.9M1070.9 860.9L1132.2 775M1085.6 874.2L1135.6 776.3" fill="none" stroke="#1e1e1e" stroke-width="1.9" stroke-linecap="round" stroke-linejoin="round"/>
<path d="M615.1 47.2C613.4 47.8 608.8 49 604.5 50.6C600.2 52.2 595.1 54.9 589.5 56.9C583.9 58.9 573.9 61.6 570.8 62.5M570.8 62.5C572.4 63.6 576.2 66.8 580.8 69.4C585.3 72 593.5 75.1 598.2 78.1C603 81.1 607.1 84.6 609.5 87.5C611.9 90.4 613.3 93 612.9 95.6C612.5 98.3 610.5 101.6 607 103.5C603.5 105.4 597.2 106.5 592 106.9C586.8 107.2 580.3 107 575.8 105.6C571.2 104.2 566.4 99.7 564.5 98.5M632 81.2C633.7 80.3 638.5 76.4 642 75.4C645.5 74.4 649.5 74.4 653.2 75.2C657 76.1 661.2 78.1 664.5 80.6C667.8 83.2 672.1 87.4 673 90.6C673.9 93.9 672.4 97.3 670.1 100C667.9 102.7 663.7 105.4 659.5 106.9C655.3 108.4 649.4 109.2 645.1 109C640.9 108.8 636.4 107.8 633.9 105.6C631.3 103.5 630.6 99.5 629.8 96.2C628.9 93 628.8 88.6 628.9 86.2C628.9 83.9 629.9 82.6 630.1 81.9M690.1 75.6C690 77.2 689.4 81.8 689.2 85C689.1 88.2 688.6 91.9 689.5 95C690.4 98.1 692.2 101.7 694.5 103.8C696.8 105.8 700.1 107.5 703.2 107.2C706.4 107 710.2 104.9 713.2 102.5C716.3 100.1 719.1 96.4 721.4 93.1C723.7 89.9 725.8 85.4 727 83.1C728.2 80.8 728.4 80 728.6 79.4M728.6 79.4C728.5 81.1 727.6 86.6 727.6 90C727.7 93.4 728 96.9 728.9 100C729.8 103.1 732.3 107.3 733 108.8M783.2 80.4C781.6 79.4 776.8 75.8 773.2 74.4C769.7 73 765.5 71.6 762 71.9C758.5 72.2 754.5 73.9 752 76.2C749.5 78.6 748 82.7 747 86.2C746 89.8 745.8 93.3 746 97.5C746.2 101.7 747.7 109 748 111.2M822.6 84.4C822.1 83.1 821.7 78.7 819.5 76.9C817.3 75.1 813.1 73 809.5 73.5C805.9 74 800.9 76.9 797.6 80C794.4 83.1 790.8 88.2 790.1 91.9C789.5 95.5 791.1 99.2 793.9 101.9C796.7 104.6 802.5 106.5 807 108.1C811.5 109.8 816.8 110.8 820.8 111.9C824.7 112.9 829.1 114 830.8 114.4M855 90.2C856.7 90.9 861.7 93.7 865 94C868.3 94.3 872.4 93.6 875 91.9C877.6 90.2 880.2 86.4 880.6 83.8C881 81.1 879.6 78 877.5 76.2C875.4 74.5 871.6 73.1 868.1 73.5C864.7 73.9 860.3 75.9 856.9 78.5C853.4 81.1 849.8 85.6 847.5 89.4C845.2 93.2 843.6 97.4 843.4 101.2C843.2 105.1 844.3 109.5 846.2 112.5C848.2 115.5 851.5 117.6 855 119C858.5 120.4 863.3 121 867.5 121C871.7 121 876.2 119.6 880 118.8C883.8 117.9 888.5 116.4 890.2 115.9" fill="none" stroke="#1e1e1e" stroke-width="9.8" stroke-linecap="round" stroke-linejoin="round"/>
<path d="M1000.6 47.2C998.9 47.8 994.3 49 990 50.6C985.7 52.2 980.6 54.9 975 56.9C969.4 58.9 959.4 61.6 956.2 62.5M956.2 62.5C957.9 63.6 961.7 66.8 966.2 69.4C970.8 72 979 75.1 983.8 78.1C988.5 81.1 992.6 84.6 995 87.5C997.4 90.4 998.8 93 998.4 95.6C998 98.3 996 101.6 992.5 103.5C989 105.4 982.7 106.5 977.5 106.9C972.3 107.2 965.8 107 961.2 105.6C956.7 104.2 951.9 99.7 950 98.5M1017.2 73.1C1016.8 74.9 1015 80.1 1014.8 83.8C1014.5 87.4 1014.6 91.7 1015.6 95C1016.6 98.3 1018.6 101.8 1020.6 103.8C1022.6 105.7 1025.1 106.6 1027.5 106.5C1029.9 106.4 1032.8 104.8 1035 103.1C1037.2 101.4 1039.7 97.4 1040.6 96.2M1053.8 74.4C1052.9 76.6 1050.6 82.6 1048.8 87.5C1046.9 92.4 1044.6 98.1 1042.5 103.8C1040.4 109.4 1038.3 115.8 1036.2 121.2C1034.2 126.7 1031.8 131.1 1030 136.2C1028.2 141.4 1026.1 149.3 1025.4 151.9M1093.1 69.8C1090.9 70.2 1085.1 71 1080 72.5C1074.9 74 1065.6 77.5 1062.8 78.5M1062.8 78.5C1064.2 79.5 1067.3 82 1071.2 84.4C1075.2 86.7 1081.2 89.7 1086.2 92.5C1091.2 95.3 1097.9 98.6 1101.2 101.2C1104.6 103.9 1106.7 106.5 1106.5 108.5C1106.3 110.5 1103.4 112.2 1100 113.1C1096.6 114 1090.4 114.3 1086.2 114C1082.1 113.7 1078.1 112.8 1075 111.5C1071.9 110.2 1068.8 106.9 1067.5 106M1133.8 46C1133.8 48.8 1133.8 56.6 1134 62.5C1134.2 68.4 1134.6 75.2 1135 81.2C1135.4 87.3 1135.5 94.1 1136.2 98.8C1137 103.4 1137.8 107 1139.4 109.4C1140.9 111.7 1143.2 112.8 1145.6 112.8C1148 112.8 1151.5 111 1153.8 109.4C1156 107.8 1158.1 105.1 1159.4 103.1C1160.6 101.1 1160.9 98.2 1161.2 97.2M1112.8 68.1C1116.7 67.3 1128.2 64.4 1136.2 63.1C1144.3 61.8 1156.9 60.7 1161 60.2M1191.2 90.2C1192.9 90.9 1197.9 93.7 1201.2 94C1204.6 94.3 1208.6 93.6 1211.2 91.9C1213.9 90.2 1216.5 86.4 1216.9 83.8C1217.3 81.1 1215.8 78 1213.8 76.2C1211.7 74.5 1207.8 73.1 1204.4 73.5C1200.9 73.9 1196.6 75.9 1193.1 78.5C1189.7 81.1 1186 85.6 1183.8 89.4C1181.5 93.2 1179.8 97.4 1179.6 101.2C1179.4 105.1 1180.6 109.5 1182.5 112.5C1184.4 115.5 1187.7 117.6 1191.2 119C1194.8 120.4 1199.6 121 1203.8 121C1207.9 121 1212.5 119.6 1216.2 118.8C1220 117.9 1224.8 116.4 1226.5 115.9M1236.2 81.9C1236.3 84.1 1236.3 90.6 1236.5 95C1236.7 99.4 1237.3 106.2 1237.5 108.5M1237.5 108.5C1239.2 105.9 1244.3 97.8 1247.5 93.1C1250.7 88.5 1255 82.7 1256.5 80.6M1256.5 80.6C1256.5 82.8 1256.2 89.4 1256.2 93.8C1256.3 98.1 1256.8 104.7 1256.9 106.9M1256.9 106.9C1258.6 104.3 1263.9 96 1267.5 91.2C1271.1 86.5 1276.7 80.6 1278.5 78.5M1278.5 78.5C1279.1 80.6 1280.8 87.2 1281.9 91.2C1283 95.2 1284 99.5 1285 102.5C1286 105.5 1287.3 107.9 1287.8 109" fill="none" stroke="#1e1e1e" stroke-width="9.8" stroke-linecap="round" stroke-linejoin="round"/>
<path d="M2210.6 57.8C2210.6 60.6 2210.4 70 2210.6 75C2210.8 80 2211.2 83.6 2211.9 87.5C2212.5 91.4 2214 96.7 2214.4 98.5M2193.5 41.9C2196.5 42.9 2205.2 45.4 2211.2 47.9C2217.3 50.4 2224.2 53.4 2230 56.9C2235.8 60.4 2241.8 64.8 2246.2 69C2250.7 73.2 2254.5 78.6 2256.5 81.9C2258.5 85.2 2258.9 86.2 2258.1 88.8C2257.4 91.2 2255.1 94.5 2251.9 96.9C2248.6 99.3 2243.6 101.5 2238.8 103.1C2233.9 104.8 2227.7 105.9 2222.5 106.9C2217.3 107.9 2212.2 108.3 2207.5 109C2202.8 109.7 2196.2 110.9 2194 111.2M2288.2 90.2C2289.8 90.9 2294.8 93.7 2298.2 94C2301.5 94.3 2305.5 93.6 2308.2 91.9C2310.8 90.2 2313.4 86.4 2313.8 83.8C2314.2 81.1 2312.7 78 2310.7 76.2C2308.6 74.5 2304.7 73.1 2301.3 73.5C2297.8 73.9 2293.5 75.9 2290 78.5C2286.6 81.1 2282.9 85.6 2280.7 89.4C2278.4 93.2 2276.7 97.4 2276.5 101.2C2276.3 105.1 2277.5 109.5 2279.4 112.5C2281.3 115.5 2284.6 117.6 2288.2 119C2291.7 120.4 2296.5 121 2300.7 121C2304.8 121 2309.4 119.6 2313.2 118.8C2316.9 117.9 2321.7 116.4 2323.4 115.9M2361.6 69.8C2359.4 70.2 2353.6 71 2348.5 72.5C2343.4 74 2334.1 77.5 2331.2 78.5M2331.2 78.5C2332.7 79.5 2335.8 82 2339.8 84.4C2343.7 86.7 2349.8 89.7 2354.8 92.5C2359.8 95.3 2366.4 98.6 2369.8 101.2C2373.1 103.9 2375.2 106.5 2375 108.5C2374.8 110.5 2371.9 112.2 2368.5 113.1C2365.1 114 2358.9 114.3 2354.8 114C2350.6 113.7 2346.6 112.8 2343.5 111.5C2340.4 110.2 2337.2 106.9 2336 106M2402.9 46C2402.9 48.8 2402.9 56.6 2403.2 62.5C2403.4 68.4 2403.8 75.2 2404.2 81.2C2404.5 87.3 2404.7 94.1 2405.4 98.8C2406.1 103.4 2407 107 2408.5 109.4C2410.1 111.7 2412.4 112.8 2414.8 112.8C2417.2 112.8 2420.6 111 2422.9 109.4C2425.2 107.8 2427.3 105.1 2428.5 103.1C2429.8 101.1 2430.1 98.2 2430.4 97.2M2381.9 68.1C2385.8 67.3 2397.4 64.4 2405.4 63.1C2413.4 61.8 2426 60.7 2430.2 60.2M2446 55.6C2447.4 56.5 2453 60 2454.4 60.9M2450.6 83.1C2450.8 85.1 2451 90.8 2451.5 95C2452 99.2 2453.4 106.2 2453.8 108.5M2471.9 77.5C2471.7 80 2471.2 87.8 2471 92.5C2470.8 97.2 2470.7 103.8 2470.6 106M2470.6 106C2472.4 103.2 2477.8 94.1 2481.2 89.4C2484.7 84.6 2489 79.8 2491.2 77.5C2493.5 75.2 2493.6 74.4 2495 75.6C2496.4 76.9 2498.1 81.4 2499.4 85C2500.7 88.6 2501.6 93.8 2502.8 97.5C2503.9 101.2 2505.5 105.8 2506 107.5M2552.5 77.2C2550.4 77.2 2544.2 76.3 2540 77.2C2535.8 78.2 2530.9 80.4 2527.5 83.1C2524.1 85.9 2520.6 90.4 2519.4 93.8C2518.1 97.1 2518.4 100.7 2520 103.1C2521.6 105.6 2525.4 108.5 2528.8 108.5C2532.1 108.5 2536.7 105.8 2540 103.1C2543.3 100.5 2546.6 96.4 2548.8 92.5C2550.9 88.6 2552.4 82.1 2553.1 80M2553.1 80C2554.1 81.9 2556.4 87.5 2558.8 91.2C2561.1 95 2564.6 99.5 2567.5 102.5C2570.4 105.5 2574.6 107.9 2576 109M2602.6 46C2602.6 48.8 2602.6 56.6 2602.8 62.5C2603 68.4 2603.4 75.2 2603.8 81.2C2604.2 87.3 2604.3 94.1 2605.1 98.8C2605.8 103.4 2606.6 107 2608.2 109.4C2609.7 111.7 2612 112.8 2614.4 112.8C2616.8 112.8 2620.3 111 2622.6 109.4C2624.8 107.8 2626.9 105.1 2628.2 103.1C2629.4 101.1 2629.7 98.2 2630.1 97.2M2581.6 68.1C2585.5 67.3 2597 64.4 2605.1 63.1C2613.1 61.8 2625.7 60.7 2629.8 60.2M2645.3 55.6C2646.7 56.5 2652.3 60 2653.7 60.9M2650 83.1C2650.1 85.1 2650.3 90.8 2650.8 95C2651.4 99.2 2652.7 106.2 2653.1 108.5M2672.8 81.2C2674.4 80.3 2679.2 76.4 2682.8 75.4C2686.3 74.4 2690.2 74.4 2694 75.2C2697.8 76.1 2702 78.1 2705.2 80.6C2708.5 83.2 2712.8 87.4 2713.8 90.6C2714.7 93.9 2713.1 97.3 2710.9 100C2708.6 102.7 2704.4 105.4 2700.2 106.9C2696.1 108.4 2690.1 109.2 2685.9 109C2681.6 108.8 2677.2 107.8 2674.6 105.6C2672.1 103.5 2671.3 99.5 2670.5 96.2C2669.7 93 2669.6 88.6 2669.6 86.2C2669.7 83.9 2670.7 82.6 2670.9 81.9M2728.8 77.5C2728.6 80 2728.1 87.8 2727.9 92.5C2727.7 97.2 2727.6 103.8 2727.5 106M2727.5 106C2729.3 103.2 2734.7 94.1 2738.2 89.4C2741.6 84.6 2745.9 79.8 2748.2 77.5C2750.4 75.2 2750.5 74.4 2751.9 75.6C2753.3 76.9 2755 81.4 2756.3 85C2757.6 88.6 2758.5 93.8 2759.7 97.5C2760.8 101.2 2762.4 105.8 2762.9 107.5" fill="none" stroke="#1e1e1e" stroke-width="9.8" stroke-linecap="round" stroke-linejoin="round"/>
<path d="M2878 47.2C2876.3 47.8 2871.7 49 2867.4 50.6C2863.1 52.2 2858 54.9 2852.4 56.9C2846.8 58.9 2836.8 61.6 2833.7 62.5M2833.7 62.5C2835.3 63.6 2839.1 66.8 2843.7 69.4C2848.2 72 2856.4 75.1 2861.2 78.1C2865.9 81.1 2870 84.6 2872.4 87.5C2874.8 90.4 2876.2 93 2875.8 95.6C2875.4 98.3 2873.4 101.6 2869.9 103.5C2866.4 105.4 2860.1 106.5 2854.9 106.9C2849.7 107.2 2843.2 107 2838.7 105.6C2834.1 104.2 2829.3 99.7 2827.4 98.5M2894.7 73.1C2894.2 74.9 2892.4 80.1 2892.2 83.8C2891.9 87.4 2892 91.7 2893 95C2894 98.3 2896 101.8 2898 103.8C2900 105.7 2902.5 106.6 2904.9 106.5C2907.3 106.4 2910.2 104.8 2912.4 103.1C2914.6 101.4 2917.1 97.4 2918 96.2M2931.2 74.4C2930.3 76.6 2928 82.6 2926.2 87.5C2924.3 92.4 2922 98.1 2919.9 103.8C2917.8 109.4 2915.7 115.8 2913.7 121.2C2911.6 126.7 2909.2 131.1 2907.4 136.2C2905.6 141.4 2903.5 149.3 2902.8 151.9M2970.5 69.8C2968.3 70.2 2962.5 71 2957.4 72.5C2952.3 74 2943 77.5 2940.2 78.5M2940.2 78.5C2941.6 79.5 2944.7 82 2948.7 84.4C2952.6 86.7 2958.7 89.7 2963.7 92.5C2968.7 95.3 2975.3 98.6 2978.7 101.2C2982 103.9 2984.1 106.5 2983.9 108.5C2983.7 110.5 2980.8 112.2 2977.4 113.1C2974 114 2967.8 114.3 2963.7 114C2959.5 113.7 2955.5 112.8 2952.4 111.5C2949.3 110.2 2946.2 106.9 2944.9 106M3011.2 46C3011.2 48.8 3011.2 56.6 3011.4 62.5C3011.6 68.4 3012 75.2 3012.4 81.2C3012.8 87.3 3012.9 94.1 3013.7 98.8C3014.4 103.4 3015.2 107 3016.8 109.4C3018.3 111.7 3020.6 112.8 3023 112.8C3025.4 112.8 3028.9 111 3031.2 109.4C3033.4 107.8 3035.5 105.1 3036.8 103.1C3038 101.1 3038.3 98.2 3038.7 97.2M2990.2 68.1C2994.1 67.3 3005.6 64.4 3013.7 63.1C3021.7 61.8 3034.3 60.7 3038.4 60.2M3068.7 90.2C3070.3 90.9 3075.3 93.7 3078.7 94C3082 94.3 3086 93.6 3088.7 91.9C3091.3 90.2 3093.9 86.4 3094.3 83.8C3094.7 81.1 3093.2 78 3091.2 76.2C3089.1 74.5 3085.2 73.1 3081.8 73.5C3078.3 73.9 3074 75.9 3070.5 78.5C3067.1 81.1 3063.4 85.6 3061.2 89.4C3058.9 93.2 3057.2 97.4 3057 101.2C3056.8 105.1 3058 109.5 3059.9 112.5C3061.8 115.5 3065.1 117.6 3068.7 119C3072.2 120.4 3077 121 3081.2 121C3085.3 121 3089.9 119.6 3093.7 118.8C3097.4 117.9 3102.2 116.4 3103.9 115.9M3113.7 81.9C3113.7 84.1 3113.7 90.6 3113.9 95C3114.1 99.4 3114.7 106.2 3114.9 108.5M3114.9 108.5C3116.6 105.9 3121.7 97.8 3124.9 93.1C3128.1 88.5 3132.4 82.7 3133.9 80.6M3133.9 80.6C3133.9 82.8 3133.6 89.4 3133.7 93.8C3133.7 98.1 3134.2 104.7 3134.3 106.9M3134.3 106.9C3136 104.3 3141.3 96 3144.9 91.2C3148.5 86.5 3154.1 80.6 3155.9 78.5M3155.9 78.5C3156.5 80.6 3158.2 87.2 3159.3 91.2C3160.4 95.2 3161.4 99.5 3162.4 102.5C3163.4 105.5 3164.7 107.9 3165.2 109" fill="none" stroke="#1e1e1e" stroke-width="9.8" stroke-linecap="round" stroke-linejoin="round"/>
<path d="M2209 565C2210 562.3 2212.8 554.6 2215 548.8C2217.2 542.9 2221 532.9 2222.2 529.8M2222.2 529.8C2223 531.7 2225.2 537.4 2226.9 541.2C2228.6 545.1 2231.6 551.1 2232.5 553.1M2232.5 553.1C2233.3 551.2 2235.7 545.7 2237.5 541.9C2239.3 538.1 2242.2 532.2 2243.1 530.2M2243.1 530.2C2243.6 532.9 2245.2 541.1 2246.2 546.2C2247.3 551.4 2248.4 557.2 2249.4 561.2C2250.3 565.3 2251.5 569.1 2251.9 570.6M2271.4 555.4C2272.5 555.8 2275.8 557.7 2278.1 557.9C2280.3 558 2283 557.6 2284.7 556.4C2286.4 555.3 2288.2 552.8 2288.4 551C2288.7 549.3 2287.8 547.2 2286.4 546.1C2285 544.9 2282.4 544 2280.1 544.2C2277.8 544.5 2274.9 545.8 2272.7 547.5C2270.4 549.3 2267.9 552.3 2266.4 554.8C2264.9 557.3 2263.8 560.1 2263.7 562.7C2263.5 565.2 2264.3 568.2 2265.6 570.2C2266.9 572.1 2269.1 573.5 2271.4 574.5C2273.8 575.4 2276.9 575.8 2279.7 575.8C2282.5 575.8 2285.5 574.9 2288 574.3C2290.6 573.7 2293.7 572.7 2294.8 572.4M2321.6 541.7C2320.2 542 2316.2 542.6 2312.9 543.6C2309.5 544.5 2303.3 546.9 2301.4 547.5M2301.4 547.5C2302.4 548.2 2304.5 549.9 2307.1 551.5C2309.7 553 2313.7 555 2317 556.9C2320.4 558.7 2324.8 560.9 2327 562.7C2329.3 564.5 2330.6 566.2 2330.5 567.5C2330.4 568.8 2328.4 570 2326.2 570.6C2323.9 571.2 2319.8 571.3 2317 571.2C2314.3 571 2311.6 570.4 2309.6 569.5C2307.5 568.6 2305.4 566.4 2304.6 565.8M2361.6 541.7C2360.2 542 2356.2 542.6 2352.9 543.6C2349.5 544.5 2343.3 546.9 2341.4 547.5M2341.4 547.5C2342.4 548.2 2344.5 549.9 2347.1 551.5C2349.7 553 2353.7 555 2357 556.9C2360.4 558.7 2364.8 560.9 2367 562.7C2369.3 564.5 2370.6 566.2 2370.5 567.5C2370.4 568.8 2368.4 570 2366.2 570.6C2363.9 571.2 2359.8 571.3 2357 571.2C2354.3 571 2351.6 570.4 2349.6 569.5C2347.5 568.6 2345.4 566.4 2344.6 565.8M2399.4 546.7C2398 546.7 2393.8 546.1 2391 546.7C2388.3 547.4 2385 548.8 2382.7 550.6C2380.4 552.5 2378.2 555.5 2377.3 557.7C2376.5 559.9 2376.7 562.3 2377.7 563.9C2378.8 565.6 2381.3 567.5 2383.6 567.5C2385.8 567.5 2388.8 565.7 2391 563.9C2393.3 562.2 2395.4 559.4 2396.9 556.9C2398.3 554.3 2399.3 549.9 2399.8 548.5M2399.8 548.5C2400.4 549.8 2401.9 553.5 2403.5 556C2405.1 558.5 2407.4 561.5 2409.3 563.5C2411.2 565.5 2414 567.1 2415 567.8M2440.1 550.4C2439.3 550.1 2437.2 548.8 2435.2 548.9C2433.3 549 2430.5 549.7 2428.5 551.1C2426.5 552.6 2424 555.4 2423.2 557.5C2422.5 559.6 2422.9 561.8 2424 563.5C2425.1 565.2 2427.8 567.5 2430 568C2432.2 568.5 2435.1 567.5 2437.5 566.5C2439.9 565.5 2442.5 563.6 2444.2 562C2446 560.4 2447.4 557.6 2448 556.8M2450.2 554.5C2449.9 556.2 2449 560.8 2448 565C2447 569.2 2445.5 575.1 2444.2 580C2443 584.9 2441.1 591.9 2440.5 594.2M2440.5 594.2C2439.2 593.6 2435.4 591.8 2433 590.5C2430.6 589.2 2427.4 587.4 2426.2 586.8M2467.2 555.4C2468.3 555.8 2471.6 557.7 2473.9 557.9C2476.1 558 2478.8 557.6 2480.5 556.4C2482.2 555.3 2484 552.8 2484.2 551C2484.5 549.3 2483.6 547.2 2482.2 546.1C2480.8 544.9 2478.2 544 2475.9 544.2C2473.6 544.5 2470.7 545.8 2468.5 547.5C2466.2 549.3 2463.7 552.3 2462.2 554.8C2460.7 557.3 2459.6 560.1 2459.5 562.7C2459.3 565.2 2460.1 568.2 2461.4 570.2C2462.7 572.1 2464.9 573.5 2467.2 574.5C2469.6 575.4 2472.7 575.8 2475.5 575.8C2478.3 575.8 2481.3 574.9 2483.8 574.3C2486.4 573.7 2489.5 572.7 2490.6 572.4" fill="none" stroke="#1e1e1e" stroke-width="6.5" stroke-linecap="round" stroke-linejoin="round"/>
<path d="M2235 616.5C2234.8 619.4 2234.2 627.8 2233.8 633.8C2233.3 639.8 2232.7 649.4 2232.5 652.5M2258.2 615.4C2258.1 619.1 2257.7 629.9 2257.2 637.5C2256.8 645.1 2256 657.1 2255.8 661M2232.8 641.5C2234.8 640.9 2241 639.1 2245 638.1C2249 637.1 2254.6 636 2256.5 635.6M2293.1 634.2C2291.7 634.2 2287.6 633.6 2284.8 634.2C2282 634.9 2278.8 636.3 2276.5 638.1C2274.2 640 2271.9 643 2271.1 645.2C2270.2 647.4 2270.5 649.8 2271.5 651.4C2272.5 653.1 2275.1 655 2277.3 655C2279.5 655 2282.6 653.2 2284.8 651.4C2287 649.7 2289.2 646.9 2290.6 644.4C2292.1 641.8 2293 637.4 2293.5 636M2293.5 636C2294.1 637.3 2295.7 641 2297.3 643.5C2298.9 646 2301.2 649 2303.1 651C2305 653 2307.8 654.6 2308.7 655.3M2315.4 634.4C2315.3 636 2315 641.2 2314.8 644.4C2314.7 647.5 2314.6 651.8 2314.6 653.3M2314.6 653.3C2315.8 651.5 2319.4 645.4 2321.7 642.3C2323.9 639.1 2326.8 635.9 2328.3 634.4C2329.8 632.9 2329.9 632.3 2330.8 633.1C2331.7 634 2332.9 636.9 2333.7 639.4C2334.6 641.8 2335.2 645.2 2336 647.7C2336.7 650.2 2337.8 653.2 2338.1 654.3M2375 638.1C2373.8 637.3 2370.2 634 2367.5 633.1C2364.8 632.3 2361.5 632 2358.8 633.1C2356 634.3 2352.8 637.5 2351.2 640C2349.8 642.5 2348.9 645.9 2349.8 648.1C2350.6 650.4 2353.5 653.2 2356.2 653.5C2359 653.8 2363.1 652.2 2366.2 650C2369.4 647.8 2373.5 641.7 2375 640M2376.5 605.2C2376.5 607.9 2376.2 615.5 2376.2 621.2C2376.3 627 2376.4 634.2 2376.9 640C2377.3 645.8 2378.6 653.5 2379 656.2M2393.8 599C2393.8 603.8 2393.8 617.8 2394 627.5C2394.2 637.2 2394.8 652.3 2395 657.2M2415.8 642.9C2416.9 643.3 2420.2 645.2 2422.5 645.4C2424.7 645.5 2427.4 645.1 2429.1 643.9C2430.8 642.8 2432.6 640.3 2432.8 638.5C2433.1 636.8 2432.2 634.7 2430.8 633.6C2429.4 632.4 2426.8 631.5 2424.5 631.7C2422.2 632 2419.3 633.3 2417.1 635C2414.8 636.8 2412.3 639.8 2410.8 642.3C2409.3 644.8 2408.2 647.6 2408.1 650.2C2407.9 652.7 2408.7 655.7 2410 657.7C2411.3 659.6 2413.5 661 2415.8 662C2418.2 662.9 2421.3 663.3 2424.1 663.3C2426.9 663.3 2429.9 662.4 2432.4 661.8C2435 661.2 2438.1 660.2 2439.2 659.9M2470.3 636.3C2469.2 635.6 2466 633.2 2463.7 632.3C2461.3 631.4 2458.6 630.4 2456.2 630.6C2453.8 630.9 2451.2 632 2449.5 633.6C2447.9 635.1 2446.9 637.8 2446.2 640.2C2445.6 642.6 2445.4 644.9 2445.6 647.7C2445.7 650.5 2446.7 655.3 2446.9 656.8" fill="none" stroke="#1e1e1e" stroke-width="6.5" stroke-linecap="round" stroke-linejoin="round"/>
<path d="M801.9 1256.2C801.8 1258.3 801.4 1264.5 801.5 1268.8C801.6 1273 802.3 1279.7 802.5 1281.9M803.5 1249.6C805.4 1249.9 811.4 1250.4 815 1251.2C818.6 1252.1 822.8 1253.5 825 1255C827.2 1256.5 828.4 1258.4 828.1 1260C827.8 1261.6 826.6 1263.5 823.1 1264.4C819.7 1265.2 810.1 1265.1 807.5 1265.2M807.5 1265.2C809.2 1266.7 814.2 1271 817.5 1273.8C820.8 1276.5 825.8 1280.5 827.5 1281.9M842.4 1273C843.3 1273.3 845.7 1274.7 847.4 1274.8C849 1275 851.1 1274.6 852.3 1273.8C853.6 1272.9 854.9 1271 855.1 1269.7C855.3 1268.5 854.6 1266.9 853.6 1266C852.5 1265.2 850.6 1264.5 848.9 1264.7C847.2 1264.9 845.1 1265.8 843.4 1267.2C841.7 1268.5 839.8 1270.7 838.7 1272.5C837.6 1274.4 836.8 1276.5 836.7 1278.4C836.6 1280.3 837.2 1282.5 838.1 1284C839.1 1285.4 840.7 1286.5 842.4 1287.2C844.2 1287.9 846.6 1288.2 848.6 1288.2C850.7 1288.2 852.9 1287.5 854.8 1287.1C856.7 1286.7 859 1285.9 859.9 1285.7M867.9 1240.3C868 1243.9 868 1254.3 868.1 1261.5C868.3 1268.8 868.8 1280 868.9 1283.7M894.7 1266.5C893.6 1266.5 890.5 1266 888.5 1266.5C886.4 1267 884 1268.1 882.3 1269.4C880.6 1270.8 878.9 1273 878.3 1274.7C877.6 1276.3 877.8 1278.1 878.6 1279.3C879.3 1280.6 881.3 1282 882.9 1282C884.6 1282 886.8 1280.7 888.5 1279.3C890.1 1278 891.7 1276 892.8 1274.1C893.9 1272.2 894.6 1268.9 895 1267.9M895 1267.9C895.4 1268.8 896.6 1271.6 897.8 1273.5C898.9 1275.3 900.7 1277.6 902.1 1279C903.5 1280.5 905.6 1281.7 906.3 1282.2M920.2 1251.1C920.2 1252.4 920.2 1256.3 920.3 1259.2C920.4 1262.1 920.6 1265.5 920.8 1268.5C921 1271.5 921.1 1274.9 921.4 1277.2C921.8 1279.5 922.2 1281.3 923 1282.4C923.8 1283.6 924.9 1284.1 926.1 1284.1C927.3 1284.1 929 1283.2 930.1 1282.4C931.2 1281.6 932.3 1280.3 932.9 1279.3C933.5 1278.3 933.7 1276.9 933.8 1276.4M909.8 1262C911.7 1261.6 917.5 1260.2 921.4 1259.5C925.4 1258.9 931.6 1258.4 933.7 1258.1M941.7 1255.8C942.4 1256.3 945.2 1258 945.9 1258.4M944 1269.4C944.1 1270.4 944.2 1273.2 944.5 1275.3C944.7 1277.4 945.4 1280.9 945.6 1282M956.3 1268.5C957.2 1268 959.5 1266.1 961.3 1265.6C963 1265.1 965 1265.1 966.9 1265.5C968.7 1266 970.8 1266.9 972.4 1268.2C974.1 1269.5 976.2 1271.6 976.6 1273.2C977.1 1274.8 976.3 1276.5 975.2 1277.8C974.1 1279.1 972 1280.5 969.9 1281.2C967.9 1281.9 964.9 1282.4 962.8 1282.2C960.7 1282.1 958.5 1281.6 957.3 1280.6C956 1279.5 955.6 1277.5 955.2 1275.9C954.8 1274.3 954.8 1272.2 954.8 1271C954.8 1269.8 955.3 1269.2 955.4 1268.8M983.7 1266.7C983.6 1267.9 983.4 1271.7 983.3 1274.1C983.2 1276.4 983.1 1279.6 983.1 1280.8M983.1 1280.8C984 1279.4 986.6 1274.9 988.3 1272.5C990 1270.2 992.2 1267.8 993.3 1266.7C994.4 1265.5 994.5 1265.1 995.2 1265.7C995.8 1266.3 996.7 1268.6 997.3 1270.4C998 1272.2 998.4 1274.7 999 1276.6C999.5 1278.4 1000.3 1280.7 1000.6 1281.5M1023.5 1266.5C1022.4 1266.5 1019.3 1266 1017.3 1266.5C1015.2 1267 1012.8 1268.1 1011.1 1269.4C1009.4 1270.8 1007.7 1273 1007.1 1274.7C1006.4 1276.3 1006.6 1278.1 1007.4 1279.3C1008.1 1280.6 1010.1 1282 1011.7 1282C1013.4 1282 1015.6 1280.7 1017.3 1279.3C1018.9 1278 1020.5 1276 1021.6 1274.1C1022.7 1272.2 1023.4 1268.9 1023.8 1267.9M1023.8 1267.9C1024.2 1268.8 1025.4 1271.6 1026.6 1273.5C1027.7 1275.3 1029.5 1277.6 1030.9 1279C1032.3 1280.5 1034.4 1281.7 1035.1 1282.2M1044.2 1240.3C1044.3 1243.9 1044.3 1254.3 1044.4 1261.5C1044.6 1268.8 1045.1 1280 1045.2 1283.7" fill="none" stroke="#1e1e1e" stroke-width="4.9" stroke-linecap="round" stroke-linejoin="round"/>
<path d="M897 1323.6C897 1325.1 896.9 1329.7 897 1332.2C897.1 1334.6 897.3 1336.4 897.6 1338.4C897.9 1340.3 898.6 1342.9 898.8 1343.8M888.5 1315.8C889.9 1316.3 894.3 1317.5 897.3 1318.7C900.3 1320 903.7 1321.5 906.5 1323.2C909.4 1324.9 912.4 1327.1 914.6 1329.2C916.8 1331.3 918.7 1333.9 919.7 1335.6C920.6 1337.2 920.8 1337.7 920.5 1339C920.1 1340.2 919 1341.8 917.4 1343C915.8 1344.2 913.3 1345.3 910.9 1346.1C908.5 1346.9 905.4 1347.5 902.8 1347.9C900.3 1348.4 897.8 1348.6 895.4 1349C893.1 1349.4 889.8 1349.9 888.7 1350.1M937.5 1316.9C937.3 1319.5 936.5 1327.3 936.5 1332.5C936.5 1337.7 937.1 1345.5 937.2 1348.1M929.4 1311.5C932 1311.8 940.4 1312.2 945 1313.5C949.6 1314.8 954.9 1317.2 956.9 1319.4C958.9 1321.5 958.2 1324.4 956.9 1326.2C955.5 1328.1 951.4 1329.6 948.8 1330.6C946.1 1331.6 942.5 1331.9 941.2 1332.1M941.2 1332.1C943.3 1332.5 950.7 1332.9 953.8 1334.4C956.8 1335.9 959.2 1339.1 959.4 1341.2C959.6 1343.4 957.8 1346 955 1347.5C952.2 1349 946.9 1349.8 942.5 1350C938.1 1350.2 930.8 1349 928.5 1348.8" fill="none" stroke="#1e1e1e" stroke-width="4.9" stroke-linecap="round" stroke-linejoin="round"/>
<path d="M2875.4 771.2C2875.3 773.3 2874.9 779.5 2875 783.8C2875.1 788 2875.8 794.7 2876 796.9M2877 764.6C2878.9 764.9 2884.9 765.4 2888.5 766.2C2892.1 767.1 2896.3 768.5 2898.5 770C2900.7 771.5 2901.9 773.4 2901.6 775C2901.3 776.6 2900.1 778.5 2896.6 779.4C2893.2 780.2 2883.6 780.1 2881 780.2M2881 780.2C2882.7 781.7 2887.7 786 2891 788.8C2894.3 791.5 2899.3 795.5 2901 796.9M2915.9 788C2916.8 788.3 2919.2 789.7 2920.9 789.8C2922.5 790 2924.6 789.6 2925.8 788.8C2927.1 787.9 2928.4 786 2928.6 784.7C2928.8 783.5 2928.1 781.9 2927.1 781C2926.1 780.2 2924.1 779.5 2922.4 779.7C2920.7 779.9 2918.6 780.8 2916.9 782.1C2915.2 783.5 2913.3 785.7 2912.2 787.5C2911.1 789.4 2910.3 791.5 2910.2 793.4C2910.1 795.3 2910.7 797.5 2911.6 799C2912.6 800.4 2914.2 801.5 2915.9 802.2C2917.7 802.9 2920.1 803.2 2922.1 803.2C2924.2 803.2 2926.4 802.5 2928.3 802.1C2930.2 801.7 2932.5 800.9 2933.4 800.7M2941.4 755.3C2941.5 758.9 2941.5 769.3 2941.6 776.5C2941.8 783.8 2942.3 795 2942.4 798.7M2968.2 781.5C2967.1 781.5 2964 781 2962 781.5C2959.9 782 2957.5 783.1 2955.8 784.4C2954.1 785.8 2952.4 788 2951.8 789.7C2951.1 791.3 2951.3 793.1 2952.1 794.3C2952.8 795.6 2954.8 797 2956.4 797C2958.1 797 2960.3 795.7 2962 794.3C2963.6 793 2965.2 791 2966.3 789.1C2967.4 787.2 2968.1 783.9 2968.5 782.9M2968.5 782.9C2968.9 783.8 2970.1 786.6 2971.3 788.5C2972.4 790.3 2974.2 792.6 2975.6 794C2977 795.5 2979.1 796.7 2979.8 797.2M2993.7 766.1C2993.7 767.4 2993.7 771.3 2993.8 774.2C2993.9 777.1 2994.1 780.5 2994.3 783.5C2994.5 786.5 2994.6 789.9 2994.9 792.2C2995.3 794.5 2995.7 796.3 2996.5 797.4C2997.3 798.6 2998.4 799.1 2999.6 799.1C3000.8 799.1 3002.5 798.2 3003.6 797.4C3004.7 796.6 3005.8 795.3 3006.4 794.3C3007 793.3 3007.2 791.9 3007.3 791.4M2983.3 777C2985.2 776.6 2991 775.2 2994.9 774.5C2998.9 773.9 3005.1 773.4 3007.2 773.1M3015.2 770.8C3015.9 771.3 3018.7 773 3019.4 773.4M3017.5 784.4C3017.6 785.4 3017.7 788.2 3018 790.3C3018.2 792.4 3018.9 795.9 3019.1 797M3029.8 783.5C3030.7 783 3033 781.1 3034.8 780.6C3036.5 780.1 3038.5 780.1 3040.4 780.5C3042.2 781 3044.3 781.9 3045.9 783.2C3047.6 784.5 3049.7 786.6 3050.1 788.2C3050.6 789.8 3049.8 791.5 3048.7 792.8C3047.6 794.1 3045.5 795.5 3043.4 796.2C3041.4 796.9 3038.4 797.4 3036.3 797.2C3034.2 797.1 3032 796.6 3030.8 795.6C3029.5 794.5 3029.1 792.5 3028.7 790.9C3028.3 789.3 3028.3 787.2 3028.3 786C3028.3 784.8 3028.8 784.2 3028.9 783.8M3057.2 781.7C3057.1 782.9 3056.9 786.7 3056.8 789.1C3056.7 791.4 3056.6 794.6 3056.6 795.8M3056.6 795.8C3057.5 794.4 3060.1 789.9 3061.8 787.5C3063.5 785.2 3065.7 782.8 3066.8 781.7C3067.9 780.5 3068 780.1 3068.7 780.7C3069.3 781.3 3070.2 783.6 3070.8 785.4C3071.5 787.2 3071.9 789.7 3072.5 791.6C3073 793.4 3073.8 795.7 3074.1 796.5M3097 781.5C3095.9 781.5 3092.8 781 3090.8 781.5C3088.7 782 3086.3 783.1 3084.6 784.4C3082.9 785.8 3081.2 788 3080.6 789.7C3079.9 791.3 3080.1 793.1 3080.9 794.3C3081.6 795.6 3083.6 797 3085.2 797C3086.9 797 3089.1 795.7 3090.8 794.3C3092.4 793 3094 791 3095.1 789.1C3096.2 787.2 3096.9 783.9 3097.3 782.9M3097.3 782.9C3097.7 783.8 3098.9 786.6 3100.1 788.5C3101.2 790.3 3103 792.6 3104.4 794C3105.8 795.5 3107.9 796.7 3108.6 797.2M3117.7 755.3C3117.8 758.9 3117.8 769.3 3117.9 776.5C3118.1 783.8 3118.6 795 3118.7 798.7" fill="none" stroke="#1e1e1e" stroke-width="4.9" stroke-linecap="round" stroke-linejoin="round"/>
<path d="M2970.5 838.6C2970.5 840.1 2970.4 844.7 2970.5 847.2C2970.6 849.6 2970.8 851.4 2971.1 853.4C2971.4 855.3 2972.1 857.9 2972.3 858.8M2962 830.8C2963.4 831.3 2967.8 832.5 2970.8 833.7C2973.8 835 2977.2 836.5 2980 838.2C2982.9 839.9 2985.9 842.1 2988.1 844.2C2990.3 846.3 2992.2 848.9 2993.2 850.6C2994.1 852.2 2994.3 852.7 2994 854C2993.6 855.2 2992.5 856.8 2990.9 858C2989.3 859.2 2986.8 860.3 2984.4 861.1C2982 861.9 2978.9 862.5 2976.3 862.9C2973.8 863.4 2971.3 863.6 2968.9 864C2966.6 864.4 2963.3 864.9 2962.2 865.1M3011 831.9C3010.8 834.5 3010 842.3 3010 847.5C3010 852.7 3010.6 860.5 3010.8 863.1M3002.9 826.5C3005.5 826.8 3013.9 827.2 3018.5 828.5C3023.1 829.8 3028.4 832.2 3030.4 834.4C3032.4 836.5 3031.7 839.4 3030.4 841.2C3029 843.1 3024.9 844.6 3022.2 845.6C3019.6 846.6 3016 846.9 3014.8 847.1M3014.8 847.1C3016.8 847.5 3024.2 847.9 3027.2 849.4C3030.3 850.9 3032.7 854.1 3032.9 856.2C3033.1 858.4 3031.3 861 3028.5 862.5C3025.7 864 3020.4 864.8 3016 865C3011.6 865.2 3004.3 864 3002 863.8" fill="none" stroke="#1e1e1e" stroke-width="4.9" stroke-linecap="round" stroke-linejoin="round"/>
<path d="M1691.2 1124.8C1689.6 1125.8 1684.1 1128.1 1681.2 1131.2C1678.4 1134.4 1675.3 1139.8 1674.4 1143.8C1673.4 1147.7 1674.2 1151.8 1675.6 1155C1677.1 1158.2 1680.1 1161.4 1683.1 1163.1C1686.1 1164.8 1689.9 1165.8 1693.8 1165.2C1697.6 1164.7 1702.6 1162.5 1706.2 1160C1709.9 1157.5 1713.2 1153.6 1715.6 1150C1718 1146.4 1720.4 1141.7 1720.8 1138.1C1721.1 1134.6 1719.6 1131.2 1717.8 1128.8C1715.9 1126.2 1712.4 1124.3 1709.4 1123.1C1706.3 1121.9 1702.7 1121.2 1699.4 1121.5C1696 1121.8 1691 1124.4 1689.4 1125M1733 1141.2C1732.9 1142.4 1732.4 1145.9 1732.3 1148.3C1732.2 1150.7 1731.8 1153.4 1732.5 1155.8C1733.2 1158.1 1734.5 1160.8 1736.2 1162.3C1738 1163.9 1740.5 1165.1 1742.8 1165C1745.2 1164.8 1748 1163.2 1750.3 1161.4C1752.6 1159.6 1754.7 1156.8 1756.4 1154.4C1758.1 1151.9 1759.7 1148.6 1760.6 1146.9C1761.5 1145.2 1761.6 1144.5 1761.8 1144.1M1761.8 1144.1C1761.7 1145.4 1761.1 1149.4 1761.1 1152C1761.1 1154.6 1761.4 1157.2 1762 1159.5C1762.7 1161.9 1764.6 1165 1765.1 1166.1M1785.5 1119C1785.5 1121.1 1785.5 1127 1785.7 1131.4C1785.8 1135.8 1786.1 1140.9 1786.4 1145.5C1786.7 1150 1786.8 1155.1 1787.4 1158.6C1787.9 1162.1 1788.5 1164.8 1789.7 1166.6C1790.9 1168.3 1792.6 1169.1 1794.4 1169.1C1796.2 1169.1 1798.8 1167.8 1800.5 1166.6C1802.2 1165.4 1803.8 1163.4 1804.7 1161.9C1805.6 1160.4 1805.9 1158.2 1806.1 1157.5M1769.7 1135.6C1772.7 1135 1781.3 1132.9 1787.4 1131.9C1793.4 1130.9 1802.8 1130.1 1805.9 1129.7" fill="none" stroke="#e03131" stroke-width="7.4" stroke-linecap="round" stroke-linejoin="round"/>
<path d="M1860.2 1145.5C1861.5 1144.7 1865.1 1141.8 1867.7 1141.1C1870.4 1140.3 1873.3 1140.3 1876.2 1141C1879 1141.6 1882.1 1143.1 1884.6 1145C1887.1 1146.9 1890.3 1150.1 1891 1152.5C1891.7 1154.9 1890.5 1157.5 1888.8 1159.5C1887.1 1161.6 1884 1163.6 1880.8 1164.7C1877.7 1165.8 1873.3 1166.4 1870.1 1166.3C1866.9 1166.1 1863.5 1165.3 1861.6 1163.7C1859.7 1162.2 1859.2 1159.1 1858.5 1156.7C1857.9 1154.3 1857.8 1151 1857.9 1149.2C1857.9 1147.4 1858.7 1146.5 1858.8 1145.9M1931.9 1131.9C1931 1130.4 1929.2 1126 1926.9 1123.1C1924.6 1120.2 1920.8 1116.1 1918.1 1114.4C1915.4 1112.6 1912.6 1111.9 1910.6 1112.8C1908.6 1113.6 1907.1 1115.7 1906.2 1119.4C1905.4 1123.1 1905.4 1129.7 1905.2 1135C1905.1 1140.3 1905.1 1146 1905.6 1151.2C1906.1 1156.5 1907.7 1164 1908.1 1166.5M1898.1 1141C1900.9 1141.5 1909.6 1143 1915 1144C1920.4 1145 1928 1146.7 1930.6 1147.2" fill="none" stroke="#e03131" stroke-width="7.4" stroke-linecap="round" stroke-linejoin="round"/>
<path d="M1999.5 1136.8C1997.9 1137.2 1993.5 1137.8 1989.7 1138.9C1985.9 1140 1978.9 1142.7 1976.8 1143.4M1976.8 1143.4C1977.8 1144.1 1980.2 1146.1 1983.1 1147.8C1986.1 1149.6 1990.6 1151.8 1994.4 1153.9C1998.1 1156 2003.1 1158.5 2005.6 1160.5C2008.2 1162.5 2009.7 1164.4 2009.6 1165.9C2009.4 1167.4 2007.2 1168.7 2004.7 1169.4C2002.2 1170.1 1997.5 1170.2 1994.4 1170C1991.2 1169.8 1988.3 1169.2 1985.9 1168.2C1983.6 1167.2 1981.2 1164.7 1980.3 1164M2022.3 1139.4C2022 1140.7 2020.7 1144.6 2020.5 1147.3C2020.3 1150.1 2020.4 1153.3 2021.1 1155.8C2021.9 1158.3 2023.4 1160.9 2024.9 1162.3C2026.4 1163.8 2028.2 1164.5 2030 1164.4C2031.8 1164.3 2034 1163.2 2035.7 1161.9C2037.3 1160.6 2039.2 1157.6 2039.9 1156.7M2049.7 1140.3C2049.1 1141.9 2047.4 1146.5 2046 1150.2C2044.6 1153.8 2042.8 1158.1 2041.3 1162.3C2039.7 1166.6 2038.2 1171.4 2036.6 1175.5C2035 1179.5 2033.3 1182.9 2031.9 1186.7C2030.5 1190.5 2029 1196.5 2028.4 1198.4M2058.5 1142.7C2058.3 1144.5 2058 1150.3 2057.8 1153.9C2057.6 1157.5 2057.6 1162.3 2057.5 1164M2057.5 1164C2058.8 1161.9 2062.9 1155.1 2065.5 1151.6C2068.1 1148 2071.3 1144.4 2073 1142.7C2074.7 1140.9 2074.8 1140.3 2075.8 1141.2C2076.8 1142.2 2078.1 1145.5 2079.1 1148.3C2080.1 1151 2080.8 1154.8 2081.6 1157.7C2082.4 1160.5 2083.6 1163.9 2084.1 1165.2M2118.1 1147.8C2117.8 1146.9 2117.4 1143.5 2115.8 1142.2C2114.2 1140.8 2111 1139.3 2108.3 1139.7C2105.6 1140 2101.8 1142.2 2099.4 1144.5C2097 1146.8 2094.2 1150.7 2093.8 1153.4C2093.3 1156.2 2094.5 1158.9 2096.6 1160.9C2098.7 1163 2103.1 1164.4 2106.4 1165.6C2109.8 1166.9 2113.8 1167.7 2116.7 1168.4C2119.7 1169.2 2123 1170 2124.2 1170.3M2147.5 1116.2C2146.8 1119.4 2144.7 1128.6 2143.1 1135C2141.6 1141.4 2139.1 1151.5 2138.2 1154.8M2136 1167.8C2136 1168.3 2135.8 1170.5 2135.8 1171" fill="none" stroke="#e03131" stroke-width="7.4" stroke-linecap="round" stroke-linejoin="round"/>
<path d="M864.7 597.4C866.2 596 870.4 592.9 873.8 589.4C877.1 585.8 881.8 580.3 885 575.9C888.2 571.6 890.9 567.4 893.1 563.1C895.4 558.9 897.6 552.4 898.4 550.3M898.4 550.3C898.4 553.2 898.1 562 898 567.5C897.9 573 897.8 578 898 583.1C898.2 588.2 899 595.5 899.2 598M877.5 588.1C879.4 587.8 884.3 586.7 888.8 585.9C893.2 585.2 901.5 583.9 904.1 583.4M915.3 556.2C915.2 559.2 914.7 567.3 914.4 573.8C914 580.2 913.3 591.5 913.1 595M913.4 551.2C915.4 551.8 921 553.4 925 554.7C929 556 934 557.3 937.5 558.9C941 560.4 944.4 562.5 946.2 564.1C948.1 565.6 949.2 566.8 948.9 568.1C948.6 569.5 946.9 571.1 944.4 572.2C941.9 573.3 937.4 574.1 933.8 574.9C930.1 575.7 925.5 576.3 922.5 576.9C919.5 577.5 916.8 578.2 915.6 578.4M960.5 558.4C962.5 558.1 968.3 556.9 972.5 556.6C976.7 556.2 983.4 556.3 985.6 556.2M971.6 556.9C971.3 559.9 970.4 568.9 970 575C969.6 581.1 969.2 590.6 969.1 593.8M958.9 595.1C960.7 594.9 965.7 594.3 970 593.8C974.3 593.2 982.4 592.3 984.9 592" fill="none" stroke="#1e1e1e" stroke-width="6.5" stroke-linecap="round" stroke-linejoin="round"/>
<path d="M137 715.1C136.5 716.5 134.8 720.2 134.1 723.1C133.4 726 132.7 729.5 132.8 732.5C132.9 735.5 133.5 738.6 134.7 740.9C135.9 743.2 138.1 745.2 140 746.4C141.9 747.5 144 747.9 146.2 747.7C148.5 747.5 151.5 746.6 153.8 745C156 743.4 158.3 740.8 160 738.1C161.7 735.5 163.1 732.1 164.1 729.1C165.1 726 165.8 722.4 165.9 720C166.1 717.6 165.3 715.6 165.1 714.7M192.5 725.1C191.2 725.4 187.7 725.9 184.7 726.8C181.8 727.6 176.3 729.7 174.6 730.3M174.6 730.3C175.4 730.9 177.3 732.4 179.6 733.8C181.9 735.1 185.5 736.9 188.4 738.6C191.4 740.2 195.3 742.1 197.3 743.7C199.3 745.3 200.5 746.8 200.4 748C200.2 749.2 198.5 750.2 196.5 750.7C194.5 751.3 190.9 751.4 188.4 751.2C186 751.1 183.6 750.6 181.8 749.8C179.9 749 178.1 747.1 177.4 746.5M216.2 737.2C217.2 737.6 220.1 739.3 222.1 739.4C224.1 739.6 226.5 739.2 228 738.2C229.5 737.2 231.1 734.9 231.3 733.4C231.6 731.9 230.7 730 229.5 729C228.2 728 226 727.1 223.9 727.4C221.9 727.6 219.3 728.7 217.3 730.3C215.3 731.9 213.1 734.5 211.8 736.7C210.4 739 209.5 741.4 209.3 743.7C209.2 746 209.9 748.6 211 750.4C212.2 752.1 214.1 753.4 216.2 754.2C218.3 755 221.1 755.4 223.6 755.4C226 755.4 228.7 754.6 230.9 754C233.2 753.5 236 752.6 237 752.4M264.4 731.4C263.4 730.8 260.6 728.7 258.5 727.9C256.4 727 253.9 726.2 251.9 726.4C249.8 726.6 247.4 727.6 246 729C244.5 730.4 243.6 732.8 243 734.9C242.4 737 242.3 739.1 242.4 741.5C242.5 744 243.4 748.3 243.6 749.6" fill="none" stroke="#1e1e1e" stroke-width="5.8" stroke-linecap="round" stroke-linejoin="round"/>
<path d="M1540.6 749.6C1541.4 747.5 1543.5 741.7 1545.2 737.2C1546.8 732.8 1549.8 725.2 1550.7 722.8M1550.7 722.8C1551.3 724.2 1552.9 728.6 1554.2 731.5C1555.5 734.5 1557.8 739.1 1558.5 740.6M1558.5 740.6C1559.1 739.1 1560.9 734.9 1562.3 732C1563.6 729.1 1565.8 724.6 1566.6 723.2M1566.6 723.2C1567 725.2 1568.1 731.4 1568.9 735.3C1569.7 739.3 1570.6 743.7 1571.3 746.7C1572 749.8 1572.9 752.7 1573.2 753.9M1586.8 742.3C1587.7 742.6 1590.2 744 1591.9 744.2C1593.6 744.3 1595.6 744 1596.9 743.1C1598.3 742.2 1599.6 740.3 1599.8 739C1600 737.7 1599.3 736 1598.2 735.2C1597.2 734.3 1595.2 733.6 1593.5 733.8C1591.7 734 1589.5 735 1587.8 736.3C1586 737.7 1584.2 739.9 1583 741.8C1581.9 743.7 1581 745.9 1580.9 747.8C1580.8 749.8 1581.4 752 1582.4 753.5C1583.4 755 1585 756.1 1586.8 756.8C1588.6 757.5 1591 757.8 1593.1 757.8C1595.3 757.8 1597.6 757.1 1599.5 756.7C1601.4 756.3 1603.8 755.5 1604.7 755.2M1624.1 731.9C1623 732.1 1620 732.5 1617.5 733.3C1614.9 734 1610.2 735.8 1608.7 736.3M1608.7 736.3C1609.4 736.8 1611 738.1 1613 739.3C1615 740.5 1618.1 742 1620.6 743.4C1623.1 744.8 1626.5 746.5 1628.2 747.8C1629.9 749.2 1631 750.5 1630.9 751.5C1630.8 752.5 1629.3 753.4 1627.6 753.8C1625.9 754.3 1622.7 754.4 1620.6 754.3C1618.5 754.1 1616.5 753.7 1614.9 753C1613.3 752.3 1611.8 750.7 1611.1 750.2M1652.3 731.9C1651.2 732.1 1648.2 732.5 1645.7 733.3C1643.1 734 1638.4 735.8 1636.9 736.3M1636.9 736.3C1637.6 736.8 1639.2 738.1 1641.2 739.3C1643.2 740.5 1646.3 742 1648.8 743.4C1651.3 744.8 1654.7 746.5 1656.4 747.8C1658.1 749.2 1659.2 750.5 1659.1 751.5C1659 752.5 1657.5 753.4 1655.8 753.8C1654.1 754.3 1650.9 754.4 1648.8 754.3C1646.7 754.1 1644.7 753.7 1643.1 753C1641.5 752.3 1640 750.7 1639.3 750.2M1682.5 735.7C1681.4 735.7 1678.3 735.2 1676.2 735.7C1674 736.2 1671.6 737.3 1669.8 738.7C1668.1 740.1 1666.4 742.3 1665.7 744C1665.1 745.7 1665.2 747.5 1666 748.8C1666.8 750 1668.8 751.5 1670.5 751.5C1672.2 751.5 1674.5 750.1 1676.2 748.8C1677.8 747.4 1679.5 745.4 1680.6 743.4C1681.7 741.5 1682.4 738.1 1682.8 737.1M1682.8 737.1C1683.3 738 1684.4 740.9 1685.6 742.8C1686.9 744.7 1688.6 747 1690.1 748.5C1691.5 750 1693.7 751.2 1694.4 751.8M1713 738.5C1712.4 738.3 1710.8 737.2 1709.3 737.3C1707.8 737.4 1705.7 737.9 1704.2 739C1702.6 740.1 1700.7 742.3 1700.2 743.9C1699.6 745.5 1699.9 747.1 1700.7 748.5C1701.6 749.8 1703.6 751.5 1705.3 751.9C1707 752.3 1709.2 751.5 1711 750.7C1712.8 750 1714.8 748.6 1716.2 747.3C1717.5 746.1 1718.5 744 1719 743.3M1720.7 741.6C1720.4 742.9 1719.8 746.4 1719 749.6C1718.2 752.8 1717.1 757.3 1716.2 761C1715.2 764.7 1713.8 770 1713.3 771.9M1713.3 771.9C1712.3 771.4 1709.4 770 1707.6 769C1705.8 768 1703.3 766.6 1702.5 766.1M1732.4 742.3C1733.3 742.6 1735.8 744 1737.5 744.2C1739.2 744.3 1741.2 744 1742.5 743.1C1743.9 742.2 1745.2 740.3 1745.4 739C1745.6 737.7 1744.9 736 1743.8 735.2C1742.8 734.3 1740.8 733.6 1739.1 733.8C1737.3 734 1735.1 735 1733.4 736.3C1731.6 737.7 1729.8 739.9 1728.6 741.8C1727.5 743.7 1726.6 745.9 1726.5 747.8C1726.4 749.8 1727 752 1728 753.5C1729 755 1730.6 756.1 1732.4 756.8C1734.2 757.5 1736.6 757.8 1738.7 757.8C1740.9 757.8 1743.2 757.1 1745.1 756.7C1747 756.3 1749.4 755.5 1750.3 755.2" fill="none" stroke="#1e1e1e" stroke-width="5" stroke-linecap="round" stroke-linejoin="round"/>
<path d="M1587 785.6C1586.8 788.3 1586 796.3 1585.9 801.6C1585.9 806.9 1586.6 814.9 1586.7 817.6M1578.7 780.1C1581.3 780.5 1589.9 780.8 1594.6 782.2C1599.3 783.5 1604.7 786 1606.8 788.2C1608.8 790.3 1608.2 793.3 1606.8 795.2C1605.4 797.1 1601.1 798.7 1598.5 799.7C1595.8 800.7 1592.1 801 1590.8 801.2M1590.8 801.2C1592.9 801.6 1600.5 802 1603.6 803.5C1606.7 805.1 1609.1 808.3 1609.3 810.5C1609.5 812.8 1607.7 815.4 1604.9 816.9C1602 818.4 1596.6 819.3 1592.1 819.5C1587.6 819.7 1580.1 818.4 1577.8 818.2M1635 801C1634.1 800.5 1631.7 798.6 1629.9 797.9C1628.1 797.2 1626 796.5 1624.2 796.7C1622.4 796.8 1620.4 797.7 1619.2 798.9C1617.9 800.1 1617.1 802.1 1616.6 803.9C1616.1 805.7 1616 807.5 1616.1 809.6C1616.2 811.7 1617 815.4 1617.1 816.6M1640.9 801.4C1641.8 800.9 1644.2 798.9 1646 798.4C1647.8 797.9 1649.8 797.9 1651.7 798.4C1653.6 798.8 1655.7 799.8 1657.4 801.1C1659 802.4 1661.2 804.5 1661.7 806.2C1662.1 807.8 1661.4 809.5 1660.2 810.9C1659.1 812.3 1656.9 813.6 1654.8 814.4C1652.7 815.1 1649.7 815.6 1647.6 815.5C1645.4 815.3 1643.2 814.8 1641.9 813.7C1640.6 812.7 1640.2 810.6 1639.8 809C1639.4 807.4 1639.3 805.2 1639.3 803.9C1639.4 802.7 1639.9 802.1 1640 801.7M1667 786.4C1667 789.1 1666.7 797.5 1666.6 802.4C1666.5 807.4 1666.3 814 1666.3 816.3M1685.2 797.9C1683.8 798.6 1679.2 800.5 1676.6 801.9C1674 803.3 1670.7 805.5 1669.5 806.2M1669.5 806.2C1670.7 807.1 1674.4 810 1676.6 811.6C1678.7 813.3 1681.5 815.3 1682.5 816M1698.8 806C1699.7 806.3 1702.2 807.7 1703.9 807.9C1705.6 808 1707.6 807.7 1708.9 806.8C1710.3 805.9 1711.6 804 1711.8 802.7C1712 801.4 1711.3 799.7 1710.2 798.9C1709.2 798 1707.2 797.3 1705.5 797.5C1703.7 797.7 1701.5 798.7 1699.8 800C1698 801.4 1696.2 803.6 1695 805.5C1693.9 807.4 1693 809.6 1692.9 811.5C1692.8 813.5 1693.4 815.7 1694.4 817.2C1695.4 818.7 1697 819.8 1698.8 820.5C1700.6 821.2 1703 821.5 1705.1 821.5C1707.3 821.5 1709.6 820.8 1711.5 820.4C1713.4 820 1715.8 819.2 1716.7 818.9M1741.1 801C1740.2 800.5 1737.8 798.6 1736 797.9C1734.2 797.2 1732.1 796.5 1730.3 796.7C1728.5 796.8 1726.5 797.7 1725.3 798.9C1724 800.1 1723.2 802.1 1722.7 803.9C1722.2 805.7 1722.1 807.5 1722.2 809.6C1722.3 811.7 1723.1 815.4 1723.2 816.6" fill="none" stroke="#1e1e1e" stroke-width="5" stroke-linecap="round" stroke-linejoin="round"/></svg></body></html>
